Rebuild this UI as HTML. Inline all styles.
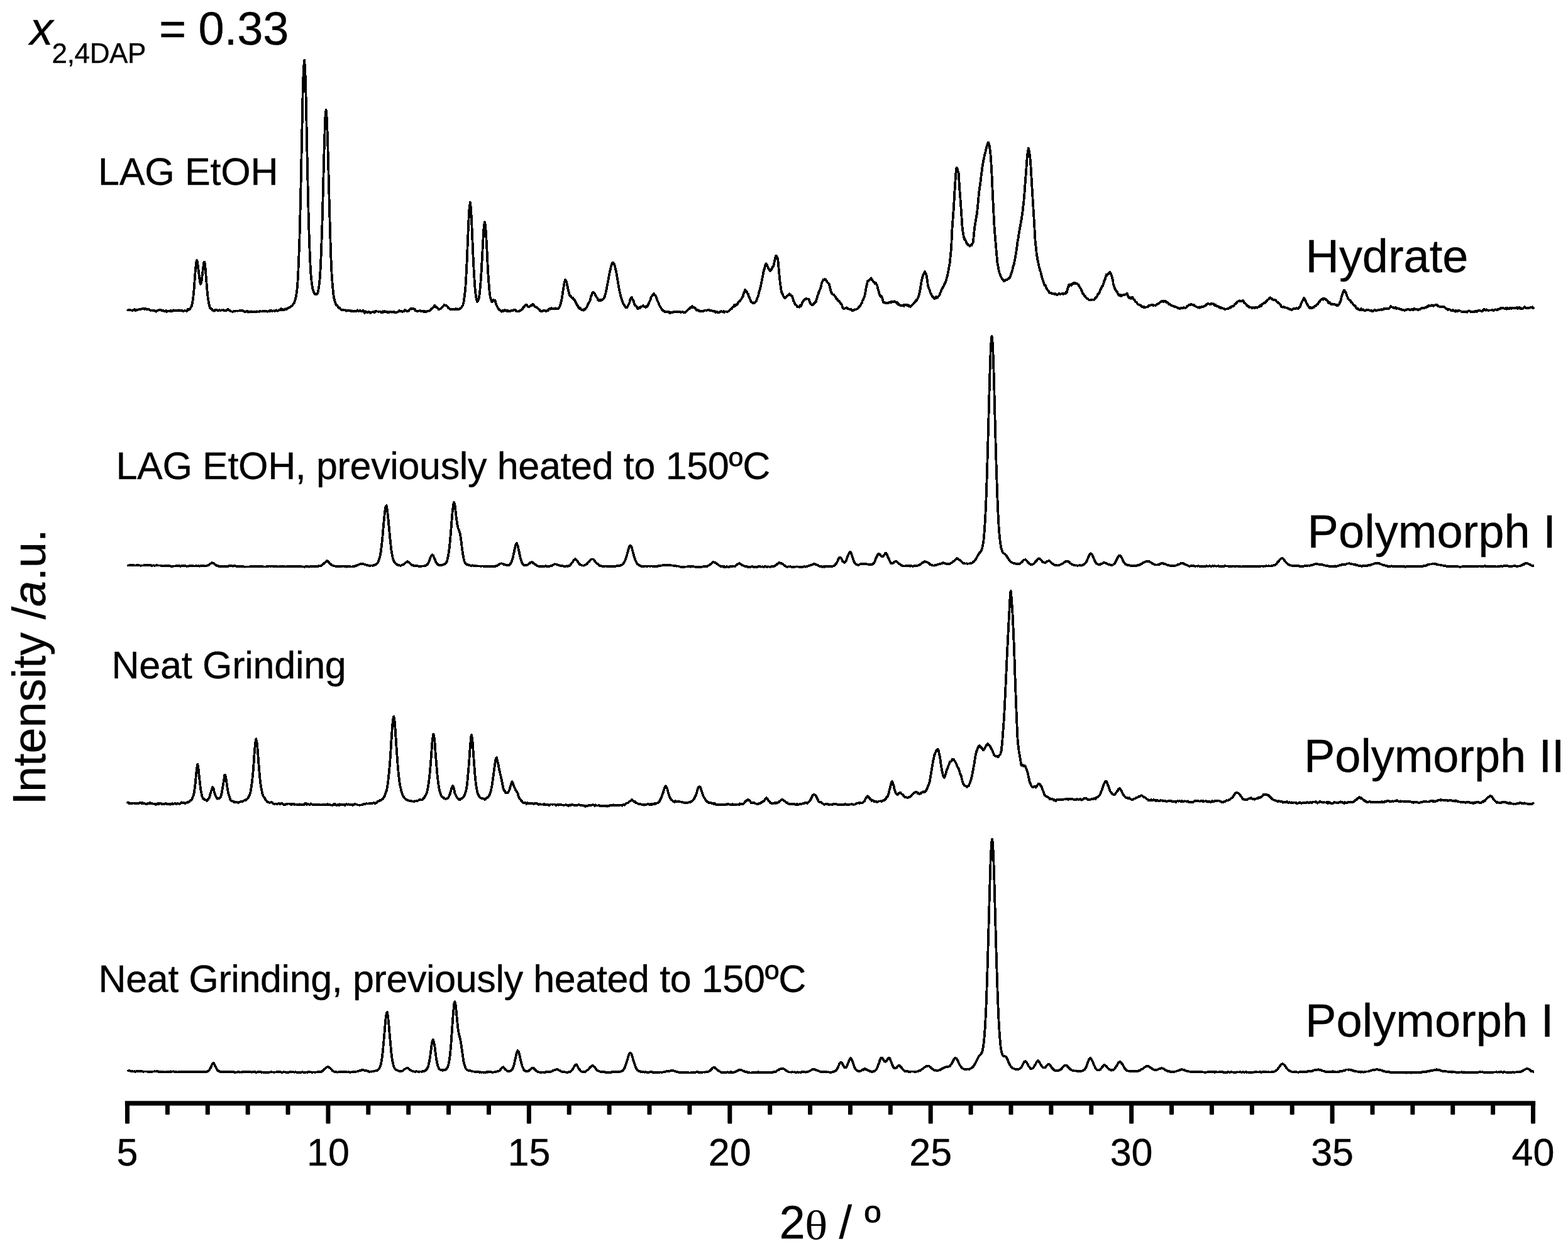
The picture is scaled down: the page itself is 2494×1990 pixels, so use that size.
<!DOCTYPE html>
<html lang="en">
<head>
<meta charset="utf-8">
<title>XRD patterns, x(2,4DAP) = 0.33</title>
<style>
html,body{margin:0;padding:0;background:#fff;}
body{width:2494px;height:1990px;overflow:hidden;}
svg{display:block;}
text{font-family:"Liberation Sans",Arial,Helvetica,sans-serif;fill:#000;stroke:#000;stroke-width:0.35px;stroke-linejoin:round;}
.c{fill:none;stroke:#000;stroke-width:3.80;stroke-linejoin:round;stroke-linecap:butt;shape-rendering:crispEdges;}
.t61{font-size:61px;}
</style>
</head>
<body>
<svg width="2494" height="1990" viewBox="0 0 2494 1990">
<rect x="0" y="0" width="2494" height="1990" fill="#fff"/>
<g id="patterns">
<path class="c" d="M202.5 492.2L203.8 493.2L205.1 493.5L206.3 492.9L207.6 493.4L208.9 493.4L210.2 494.1L211.5 493.2L212.7 493.3L214.0 491.9L215.3 494.1L216.6 492.6L217.9 493.0L219.1 493.0L220.4 492.4L221.7 492.1L223.0 492.1L224.3 491.6L225.5 491.2L226.8 491.4L228.1 491.1L229.4 491.0L230.0 492.2L230.7 491.6L231.9 491.0L233.2 491.8L234.5 492.3L235.8 492.0L237.1 492.2L238.3 493.2L239.6 493.9L240.9 493.4L242.2 493.4L243.5 493.9L244.7 494.6L246.0 494.1L247.3 494.9L248.6 495.7L249.9 494.4L251.1 493.5L252.4 493.4L253.7 493.3L255.0 493.5L256.3 493.2L257.5 493.9L258.8 494.3L260.1 494.3L261.4 495.3L262.7 495.3L263.9 494.2L265.2 495.8L266.5 494.8L267.8 494.5L269.1 494.5L270.3 495.2L271.6 493.6L272.9 495.1L274.2 494.9L275.5 493.2L276.7 494.4L278.0 494.3L279.3 494.6L280.6 494.0L281.9 494.5L283.1 494.5L284.4 493.3L285.7 494.2L287.0 493.6L288.3 493.8L289.5 493.5L290.8 494.8L292.1 494.9L293.4 494.3L294.7 494.4L295.9 494.4L297.2 494.9L298.5 491.9L299.8 492.9L301.1 492.6L302.3 491.1L303.6 488.6L304.9 487.1L306.2 480.3L307.5 471.5L308.7 458.7L310.0 440.5L311.3 424.9L312.6 414.1L313.0 414.0L313.9 415.9L315.1 425.4L316.4 435.7L317.7 446.1L318.6 450.5L319.0 451.7L320.3 449.4L321.5 440.0L322.8 428.4L324.1 418.4L325.0 416.4L325.4 416.9L326.7 426.5L327.9 442.6L329.2 458.6L330.5 472.0L331.8 480.4L333.1 486.6L334.3 490.7L335.6 491.2L336.9 491.3L338.2 493.7L339.5 493.5L340.7 494.7L342.0 493.3L343.3 493.2L344.6 492.7L345.9 494.2L347.1 494.6L348.4 493.4L349.7 493.3L351.0 493.7L352.3 493.3L353.5 493.6L354.8 493.2L356.1 493.7L357.4 494.5L358.7 493.8L359.9 494.4L360.0 493.4L361.2 493.3L362.5 492.0L363.8 492.6L365.1 494.2L366.3 494.2L367.6 495.4L368.9 495.5L370.2 496.0L371.5 495.3L372.7 495.2L374.0 494.8L375.3 494.4L376.6 494.4L377.9 494.7L379.1 494.4L380.4 494.4L381.7 494.2L383.0 494.6L384.3 494.2L385.5 493.5L386.8 494.7L388.1 494.9L389.4 496.0L390.7 495.8L391.9 495.1L393.2 494.5L394.5 496.7L395.8 495.5L397.1 496.0L398.3 496.2L399.6 495.3L400.9 495.8L402.2 495.5L403.5 496.0L404.7 496.0L406.0 495.4L407.3 496.1L408.6 495.4L409.9 495.7L411.1 495.4L412.4 495.8L413.7 494.9L415.0 495.5L416.3 495.4L417.5 495.0L418.8 495.1L420.1 495.0L421.4 494.8L422.7 495.3L423.9 495.2L425.2 495.7L426.5 495.3L427.8 495.3L429.1 494.2L430.3 494.8L431.6 493.8L432.9 494.7L434.2 494.5L435.5 494.3L436.7 494.8L438.0 494.2L439.3 493.4L440.6 494.3L441.9 494.7L443.1 494.0L444.4 492.7L445.7 492.9L447.0 491.3L448.3 493.3L449.5 491.6L450.8 493.0L452.1 492.7L453.4 491.4L454.7 491.6L455.9 491.9L457.2 490.3L458.5 489.9L459.8 489.5L461.1 488.8L462.3 487.6L463.6 487.0L464.9 486.0L466.2 483.8L467.5 482.6L468.7 479.5L470.0 475.0L471.3 469.5L472.6 459.5L473.9 442.2L475.1 415.4L476.4 380.0L477.7 330.8L479.0 273.3L480.3 211.7L481.5 151.7L482.8 110.5L484.0 95.8L484.1 95.8L485.4 112.6L486.7 157.0L487.9 216.2L489.2 278.2L490.5 334.2L491.8 378.7L493.1 412.5L494.3 434.4L495.6 447.9L496.9 457.3L498.2 462.6L498.5 463.3L499.5 465.7L500.7 467.7L502.0 467.9L503.3 468.0L504.6 467.6L505.9 464.3L507.1 457.3L508.4 446.7L509.7 427.7L511.0 398.8L512.3 362.5L513.5 317.6L514.8 267.9L516.1 220.9L517.4 186.2L518.6 174.7L518.7 175.2L519.9 188.9L521.2 225.0L522.5 273.7L523.8 324.5L525.1 370.0L526.3 406.9L527.6 436.2L528.9 453.7L530.2 467.4L531.5 475.1L532.7 479.5L534.0 483.9L535.3 485.8L536.6 486.1L537.9 488.5L539.1 489.8L540.4 490.0L541.7 491.7L543.0 493.0L544.3 493.2L545.5 493.1L546.8 493.1L548.1 493.5L549.4 493.3L550.7 494.6L551.9 493.7L553.2 494.2L554.5 494.1L555.8 493.4L557.1 494.0L558.3 495.1L559.6 494.2L560.9 494.7L562.2 495.3L563.5 494.9L564.7 495.1L566.0 494.9L567.3 494.8L568.6 493.3L569.9 494.8L571.1 494.8L572.4 493.8L573.7 494.7L575.0 494.9L576.3 495.1L577.5 493.7L578.8 495.7L580.1 498.0L581.4 495.3L582.7 496.2L583.9 496.8L585.2 497.1L586.5 495.8L587.8 496.3L589.1 497.8L590.3 496.6L591.6 496.7L592.9 496.0L594.2 496.2L595.5 497.3L596.7 495.2L598.0 495.1L599.3 495.4L600.6 495.4L601.9 495.7L603.1 495.5L604.4 495.7L605.7 496.1L607.0 497.5L608.3 497.2L609.5 495.2L610.8 496.2L612.1 495.3L613.4 496.3L614.7 495.8L615.9 497.1L617.2 496.1L618.5 496.9L619.8 496.2L621.1 495.7L622.3 496.0L623.6 496.8L624.9 496.2L626.2 495.8L627.5 497.4L628.7 496.7L630.0 497.0L631.3 496.7L632.6 496.4L633.9 495.6L635.1 494.1L636.4 495.6L637.7 495.3L639.0 495.3L640.3 496.0L641.5 495.3L642.8 495.1L644.1 493.0L645.4 494.0L646.7 494.6L647.9 495.4L649.2 495.0L650.5 494.0L651.8 492.2L653.1 490.9L654.3 491.7L655.0 490.9L655.6 491.4L656.9 490.8L658.2 491.3L659.5 491.6L660.7 494.1L662.0 494.6L663.3 495.1L664.6 495.3L665.9 494.4L667.1 494.5L668.4 494.2L669.7 495.1L671.0 495.3L672.3 495.1L673.5 494.9L674.8 496.3L676.1 495.1L677.4 496.1L678.7 495.3L679.9 495.1L681.2 494.5L682.5 494.7L683.8 493.9L685.1 493.1L686.3 490.8L687.6 490.1L688.9 489.0L690.2 488.3L691.5 485.7L692.0 487.2L692.7 487.3L694.0 488.7L695.3 489.3L696.6 490.4L697.9 492.5L699.1 491.7L700.4 491.3L701.7 490.5L703.0 489.0L704.3 488.0L705.5 486.4L706.8 484.8L708.0 485.4L708.1 485.5L709.4 485.9L710.7 486.4L711.9 487.6L713.2 489.9L714.5 490.6L715.8 492.1L717.1 491.9L718.3 492.2L719.6 491.7L720.9 492.2L722.2 492.1L723.5 492.0L724.7 491.1L726.0 492.2L727.3 491.4L728.6 492.4L729.9 491.7L731.1 491.3L732.4 490.9L733.7 489.3L735.0 487.0L736.3 485.3L737.5 481.2L738.8 471.1L740.1 460.7L741.4 440.5L742.7 414.8L743.9 384.9L745.2 354.0L746.5 331.5L747.8 322.1L747.8 321.6L749.1 331.6L750.3 355.5L751.6 386.2L752.9 416.1L754.2 439.2L755.5 457.7L756.7 469.3L758.0 476.8L759.3 479.9L760.6 478.1L761.9 473.5L763.1 465.3L764.4 450.6L765.7 431.2L767.0 407.9L768.3 383.3L769.5 362.8L770.8 353.3L771.0 353.7L772.1 358.3L773.4 377.7L774.7 401.3L775.9 427.8L777.2 447.5L778.5 463.3L779.8 473.0L781.1 476.3L782.3 479.9L783.6 479.5L784.9 476.9L786.0 477.5L786.2 477.5L787.5 477.7L788.7 482.7L790.0 486.1L791.3 488.6L792.6 490.8L793.9 493.1L795.1 493.0L796.4 494.6L797.7 495.6L799.0 494.3L800.3 495.1L801.5 494.1L802.8 493.1L804.1 494.4L805.4 493.6L806.7 495.4L807.9 494.2L809.2 495.5L810.5 494.6L811.8 495.3L813.1 494.0L814.3 493.9L815.6 494.4L816.9 493.1L818.2 493.2L819.5 492.9L820.7 494.7L822.0 495.2L823.3 495.4L824.6 495.6L825.9 494.6L827.1 494.2L828.4 493.2L829.7 492.8L831.0 491.4L832.3 489.0L833.5 487.9L834.8 486.6L836.0 485.0L836.1 485.5L837.4 485.0L838.7 486.4L839.9 487.7L841.2 487.6L842.5 487.9L843.8 486.3L845.1 486.5L846.3 484.3L847.6 484.7L848.0 484.3L848.9 485.4L850.2 486.9L851.5 488.1L852.7 489.0L854.0 488.7L855.3 490.3L856.6 491.9L857.9 492.5L859.1 494.7L860.4 494.9L861.7 495.1L863.0 494.9L864.3 494.2L865.5 494.0L866.8 494.2L868.1 494.9L869.4 494.7L870.7 494.0L871.9 493.8L873.2 491.3L874.5 491.3L875.8 491.7L877.1 490.1L878.0 490.5L878.3 491.6L879.6 491.1L880.9 490.6L882.2 490.7L883.5 490.3L884.7 491.4L886.0 490.8L887.3 491.0L888.6 490.6L889.9 488.3L891.1 485.2L892.4 480.6L893.7 474.4L895.0 466.2L896.3 457.8L897.5 450.4L898.8 445.4L899.0 445.1L900.1 446.4L901.4 450.0L902.7 455.9L903.9 462.0L905.2 467.0L906.5 470.8L907.8 471.2L909.1 472.8L910.3 474.0L911.0 473.6L911.6 475.2L912.9 476.6L914.2 477.8L915.5 480.5L916.7 482.6L918.0 485.5L919.3 486.7L920.6 490.0L921.9 490.9L923.1 490.2L924.4 492.5L925.7 493.4L927.0 492.7L928.3 493.7L929.5 491.5L930.8 492.1L932.1 489.6L933.4 488.5L934.7 485.4L935.9 482.5L937.2 480.8L938.5 477.9L939.8 472.3L941.1 468.9L942.3 466.1L943.6 464.8L943.8 465.6L944.9 466.4L946.2 466.9L947.5 470.5L948.7 472.4L950.0 473.8L951.3 477.6L952.6 478.4L953.9 476.7L955.0 478.5L955.1 477.3L956.4 476.8L957.7 477.5L959.0 475.9L960.3 474.5L961.5 473.0L962.8 468.3L964.1 463.2L965.4 456.0L966.7 449.3L967.9 443.5L969.2 435.9L970.5 430.2L971.8 424.2L973.1 420.6L974.3 418.0L975.0 419.6L975.6 418.1L976.9 420.1L978.2 424.0L979.5 430.2L980.7 435.4L982.0 443.5L983.3 450.8L984.6 458.8L985.9 465.1L987.1 470.2L988.4 474.9L989.7 478.8L991.0 482.5L992.3 484.7L993.5 486.2L994.8 488.3L996.1 489.6L997.4 489.4L998.7 486.4L999.9 484.3L1001.2 481.7L1002.5 476.1L1003.8 473.7L1005.0 473.2L1005.1 474.0L1006.3 476.8L1007.6 478.4L1008.9 483.2L1010.2 485.9L1011.5 486.7L1012.7 488.0L1014.0 491.0L1015.3 490.7L1016.6 489.1L1017.9 489.9L1019.1 487.9L1020.4 487.6L1021.7 487.1L1022.0 486.7L1023.0 486.1L1024.3 487.6L1025.5 487.6L1026.8 488.9L1028.1 487.0L1029.4 487.7L1030.7 485.3L1031.9 483.0L1033.2 479.5L1034.5 477.0L1035.8 472.4L1037.1 470.6L1038.3 468.3L1039.6 468.4L1040.0 467.2L1040.9 469.6L1042.2 469.7L1043.5 471.9L1044.7 475.8L1046.0 479.1L1047.3 481.7L1048.6 485.0L1049.9 487.8L1051.1 489.4L1052.4 491.8L1053.7 493.5L1055.0 494.2L1056.3 494.8L1057.5 496.0L1058.8 495.5L1060.1 496.4L1061.4 496.2L1062.7 495.7L1063.9 495.7L1065.2 498.1L1066.5 497.3L1067.8 496.6L1069.1 497.6L1070.3 496.6L1071.6 495.7L1072.9 496.3L1074.2 495.6L1075.5 495.7L1076.7 496.6L1078.0 496.0L1079.3 496.1L1080.6 496.3L1081.9 496.3L1083.1 497.1L1084.4 496.3L1085.7 495.8L1087.0 497.1L1088.3 496.6L1089.5 497.1L1090.8 496.4L1092.1 494.9L1093.4 493.3L1094.7 492.2L1095.9 491.5L1097.2 490.4L1098.5 489.0L1099.8 489.1L1101.0 489.1L1101.1 487.2L1102.3 488.9L1103.6 489.0L1104.9 489.4L1106.2 490.6L1107.5 493.1L1108.7 493.7L1110.0 492.9L1111.3 494.7L1112.6 494.4L1113.9 495.2L1115.1 495.0L1116.4 494.7L1117.7 495.3L1119.0 494.8L1120.3 494.2L1121.5 493.6L1122.8 493.4L1124.1 493.9L1125.4 493.2L1126.7 492.5L1127.5 492.7L1127.9 492.7L1129.2 493.8L1130.5 493.7L1131.8 494.3L1133.1 494.5L1134.3 494.8L1135.6 495.4L1136.9 494.6L1138.2 496.7L1139.5 495.6L1140.7 496.1L1142.0 497.4L1143.3 497.2L1144.6 496.6L1145.9 495.6L1147.1 494.9L1148.4 495.8L1149.7 496.1L1151.0 495.1L1152.3 497.0L1153.5 495.4L1154.8 495.4L1156.1 496.1L1157.4 495.8L1158.7 495.2L1159.9 494.1L1160.0 494.2L1161.2 492.6L1162.5 491.9L1163.8 490.6L1165.1 489.1L1166.3 488.4L1167.6 486.5L1168.3 484.7L1168.9 487.3L1170.0 484.5L1170.2 484.6L1171.5 485.0L1172.7 484.2L1174.0 481.4L1175.3 479.8L1176.6 478.8L1176.7 479.6L1177.9 477.4L1179.1 475.6L1180.4 473.4L1181.7 471.3L1183.0 466.6L1184.3 463.7L1185.0 460.7L1185.5 462.8L1185.5 462.5L1186.8 463.0L1188.1 464.5L1189.4 467.9L1190.1 467.6L1190.7 470.5L1191.9 473.2L1193.2 476.5L1194.5 479.5L1195.1 480.5L1195.8 480.7L1197.1 481.8L1198.3 482.4L1198.4 481.2L1199.6 482.1L1200.9 481.0L1202.2 480.1L1203.4 477.5L1203.5 476.6L1204.7 473.9L1206.0 470.8L1206.8 466.8L1207.3 464.3L1208.6 460.5L1209.9 455.5L1210.1 454.7L1211.1 449.4L1212.4 442.9L1212.6 442.3L1213.7 436.2L1215.0 429.5L1215.1 430.3L1216.3 425.6L1217.5 420.9L1218.4 419.4L1218.8 419.9L1218.8 420.7L1220.1 421.7L1221.4 424.8L1221.8 426.0L1222.7 427.4L1223.9 430.2L1224.7 430.8L1225.2 430.3L1226.5 429.3L1227.8 427.2L1228.5 425.7L1229.1 424.4L1230.3 423.0L1231.6 417.5L1231.8 415.5L1232.9 411.5L1234.2 406.4L1234.2 406.4L1234.3 406.6L1235.5 407.6L1236.7 412.0L1237.2 411.9L1238.0 419.9L1238.9 430.5L1239.3 434.8L1240.6 447.5L1240.6 447.8L1241.9 457.7L1242.2 459.2L1243.1 464.8L1244.3 467.2L1244.4 467.3L1245.7 470.4L1247.0 473.1L1247.2 472.6L1248.3 474.5L1249.5 472.7L1250.8 472.0L1251.8 470.8L1252.1 470.7L1253.4 469.5L1254.7 468.7L1255.0 468.7L1255.6 467.3L1255.9 468.7L1257.2 468.5L1258.5 470.6L1259.8 471.2L1260.2 471.7L1261.1 474.2L1262.3 479.0L1263.1 480.1L1263.6 481.2L1264.9 484.4L1266.2 485.2L1267.5 486.3L1268.1 488.0L1268.7 487.7L1270.0 488.5L1271.3 488.7L1272.6 485.7L1273.9 486.8L1274.4 486.6L1275.1 484.6L1276.4 480.5L1277.7 479.2L1279.0 476.7L1280.3 475.6L1281.5 476.0L1282.3 474.7L1282.5 475.7L1282.8 475.1L1284.1 475.4L1285.4 475.4L1286.7 476.2L1286.9 477.5L1287.9 479.6L1288.6 482.5L1289.2 482.5L1290.5 484.6L1291.8 485.0L1292.7 485.0L1293.1 484.4L1294.3 483.1L1295.6 481.9L1296.9 480.3L1297.8 480.0L1298.2 478.5L1299.5 473.7L1300.7 469.6L1301.1 469.1L1302.0 465.9L1303.3 462.3L1304.6 459.6L1305.3 457.5L1305.9 455.5L1307.1 450.0L1308.4 447.3L1309.4 445.3L1309.7 444.6L1311.0 444.8L1311.2 444.6L1311.9 443.8L1312.3 444.8L1313.5 445.1L1314.8 447.2L1316.1 449.1L1317.4 450.5L1318.7 451.9L1319.5 454.7L1319.9 456.6L1321.2 462.1L1322.0 464.8L1322.5 466.0L1323.8 467.6L1325.1 468.6L1326.1 468.7L1326.3 468.6L1327.0 470.2L1327.6 470.8L1328.9 472.2L1330.2 475.4L1330.3 474.8L1331.5 475.2L1332.7 478.3L1334.0 478.7L1335.2 480.3L1335.3 479.4L1336.6 482.0L1337.9 483.2L1339.1 485.1L1339.2 485.0L1340.4 490.2L1341.7 491.0L1342.5 491.2L1343.0 491.0L1344.3 490.5L1345.5 490.0L1346.8 489.4L1348.1 491.0L1349.2 491.1L1349.4 491.2L1350.7 492.0L1351.9 491.8L1353.2 491.4L1354.5 492.8L1355.8 494.4L1356.3 494.4L1357.1 494.1L1358.3 493.2L1359.6 492.3L1360.9 492.6L1362.2 491.9L1363.4 491.2L1363.5 491.2L1364.7 490.1L1366.0 488.4L1367.3 487.4L1367.6 487.2L1368.6 485.7L1369.9 482.9L1371.1 481.4L1371.7 478.7L1372.4 477.7L1373.7 474.5L1375.0 471.7L1375.1 471.9L1376.3 465.5L1377.2 459.6L1377.5 458.4L1378.8 453.0L1379.3 450.2L1380.1 447.0L1381.4 447.3L1381.8 446.2L1382.7 445.1L1383.8 443.9L1383.9 444.1L1385.1 444.7L1385.2 442.3L1386.5 444.3L1387.8 445.9L1388.4 446.7L1389.1 448.1L1390.3 448.6L1391.6 451.0L1392.6 449.6L1392.9 449.5L1394.0 451.8L1394.2 452.5L1395.5 454.8L1395.5 455.9L1396.7 460.3L1397.6 463.3L1398.0 465.9L1399.3 469.1L1400.6 471.6L1401.0 470.4L1401.9 471.2L1403.1 473.6L1403.5 474.9L1404.4 479.0L1405.1 481.0L1405.7 480.3L1407.0 481.6L1408.3 481.7L1409.5 481.6L1410.1 481.7L1410.8 481.9L1412.1 482.2L1413.4 481.2L1414.7 481.2L1415.9 480.4L1416.8 480.9L1417.0 480.1L1417.2 479.5L1418.5 480.6L1419.8 479.9L1421.1 480.3L1422.3 479.7L1422.7 479.4L1423.6 479.9L1424.9 480.9L1426.2 481.5L1426.8 481.1L1427.5 483.6L1428.7 482.7L1430.0 484.5L1431.3 485.7L1432.6 486.2L1432.7 486.4L1433.9 486.3L1435.1 485.9L1436.4 485.3L1437.7 486.8L1438.5 484.6L1439.0 485.4L1440.0 485.0L1440.3 484.9L1441.5 485.1L1442.8 486.0L1444.1 485.2L1445.2 485.6L1445.4 487.0L1446.7 487.2L1447.9 488.0L1449.2 486.9L1449.4 486.5L1450.5 485.2L1451.8 484.4L1453.1 482.9L1453.6 481.9L1454.3 481.5L1455.6 480.1L1456.9 478.4L1457.7 477.0L1458.2 477.7L1459.5 475.3L1460.7 472.7L1461.5 470.3L1462.0 468.5L1463.3 462.2L1463.6 460.6L1464.6 454.0L1465.2 449.9L1465.9 446.9L1467.1 441.3L1467.3 440.3L1468.4 437.6L1469.7 434.3L1470.8 433.3L1471.0 431.7L1471.1 432.1L1472.3 434.3L1473.5 438.3L1474.0 439.8L1474.8 445.4L1475.7 452.4L1476.1 454.4L1477.4 458.8L1478.2 460.2L1478.7 461.2L1479.9 466.2L1481.1 467.5L1481.2 468.2L1482.5 471.1L1483.8 472.3L1484.4 473.4L1485.1 474.1L1486.3 475.1L1487.6 474.4L1488.9 472.1L1490.2 473.2L1490.3 473.9L1491.5 473.1L1492.7 471.1L1494.0 470.1L1494.5 468.6L1495.3 466.6L1496.6 463.7L1497.9 459.9L1498.6 459.6L1499.1 458.3L1500.0 456.2L1500.4 456.4L1501.7 453.7L1502.0 452.6L1503.0 450.6L1504.3 447.6L1505.3 444.9L1505.5 443.3L1506.8 439.2L1507.8 433.6L1508.1 433.1L1509.4 425.2L1510.0 422.1L1510.3 420.8L1510.7 417.9L1511.9 406.3L1512.9 395.6L1513.2 391.4L1514.5 362.9L1514.6 362.3L1515.8 345.0L1517.1 328.9L1517.1 328.2L1518.3 306.2L1519.1 294.4L1519.6 286.0L1520.9 268.1L1521.3 267.2L1522.0 267.6L1522.2 267.2L1523.5 271.9L1524.7 276.0L1524.7 277.6L1526.0 295.2L1526.4 302.5L1527.3 313.1L1528.6 331.9L1528.9 335.6L1529.9 351.4L1530.6 361.1L1531.1 365.8L1532.4 374.3L1533.7 380.0L1533.9 379.3L1535.0 381.4L1536.3 383.3L1537.5 386.4L1538.2 387.9L1538.8 388.2L1540.1 389.8L1541.4 390.4L1542.4 390.7L1542.5 390.9L1542.7 391.6L1543.9 390.0L1545.2 390.5L1546.5 387.5L1547.4 386.7L1547.8 384.3L1549.1 372.3L1550.0 362.7L1550.3 360.4L1551.6 352.9L1552.9 345.1L1554.2 338.6L1554.2 336.8L1555.5 324.2L1556.7 311.4L1556.7 310.8L1558.0 299.5L1559.3 291.5L1560.0 286.3L1560.6 280.3L1561.9 270.5L1562.0 268.8L1563.1 261.3L1563.4 260.0L1564.4 254.6L1565.7 248.4L1566.8 243.2L1567.0 244.0L1568.3 237.9L1569.5 232.7L1570.8 228.8L1571.9 227.3L1572.0 226.4L1572.1 227.0L1573.4 230.3L1574.7 238.6L1575.9 249.3L1576.1 251.8L1577.2 272.5L1577.8 283.6L1578.5 300.1L1579.5 320.8L1579.8 326.8L1581.1 352.6L1581.1 353.5L1582.3 370.4L1583.6 386.1L1583.7 386.7L1584.9 401.2L1586.2 416.1L1586.2 416.2L1587.5 423.8L1588.7 430.2L1589.6 434.0L1590.0 434.8L1591.3 438.8L1592.6 441.2L1593.9 443.8L1595.1 444.6L1595.5 444.8L1596.2 445.8L1596.4 446.9L1597.7 447.4L1599.0 445.9L1600.3 444.7L1601.5 445.1L1602.8 444.5L1604.1 443.1L1604.7 443.1L1605.4 442.2L1606.7 440.8L1607.9 436.9L1609.2 433.1L1610.5 428.9L1610.6 427.7L1611.8 422.9L1612.5 420.6L1613.1 419.1L1614.3 412.3L1614.9 409.8L1615.6 405.5L1616.9 396.8L1618.2 387.5L1618.2 386.5L1619.5 379.3L1620.7 371.7L1622.0 363.9L1622.4 361.5L1623.3 357.3L1624.0 352.1L1624.6 349.9L1625.9 340.9L1626.7 334.9L1627.1 331.0L1628.4 320.1L1629.2 310.3L1629.7 304.8L1631.0 286.4L1631.7 277.2L1632.3 269.4L1633.5 253.3L1633.7 249.7L1634.8 240.8L1635.8 236.9L1635.9 235.5L1636.1 236.5L1637.4 243.0L1638.7 253.4L1639.3 261.3L1639.9 270.9L1641.2 293.2L1641.8 302.5L1642.5 314.9L1643.8 335.5L1644.4 345.2L1645.1 356.6L1646.3 378.7L1646.9 386.5L1647.6 392.0L1648.9 404.4L1650.0 410.6L1650.2 412.3L1650.3 412.9L1651.5 418.4L1652.7 424.1L1654.0 429.1L1655.3 432.8L1656.6 438.6L1657.9 443.2L1659.1 446.4L1660.4 450.6L1661.2 452.8L1661.7 454.0L1662.0 453.5L1663.0 454.5L1664.3 458.5L1665.5 460.1L1666.8 461.7L1668.1 463.7L1668.8 465.2L1669.4 465.6L1670.7 466.0L1671.9 465.8L1673.2 467.3L1674.5 466.7L1675.5 467.5L1675.8 467.6L1677.1 467.8L1678.3 467.2L1679.6 468.3L1680.0 468.0L1680.9 468.7L1682.2 469.1L1683.5 467.4L1684.7 466.5L1686.0 468.2L1686.7 468.2L1687.3 467.9L1688.6 467.2L1689.9 467.3L1691.1 467.8L1692.4 466.6L1692.5 467.2L1693.7 466.5L1695.0 466.9L1696.3 464.0L1696.7 465.1L1697.5 462.6L1698.8 456.9L1700.0 455.4L1700.1 453.2L1701.4 453.4L1702.0 453.6L1702.7 452.4L1703.9 452.3L1704.2 454.1L1705.2 452.4L1706.5 450.9L1707.8 450.2L1708.4 450.6L1709.1 451.1L1710.3 450.1L1711.0 450.7L1711.6 451.1L1712.1 451.0L1712.9 451.1L1714.2 452.2L1715.5 452.5L1715.9 455.0L1716.7 455.5L1718.0 457.9L1719.2 459.5L1719.3 459.5L1720.6 462.6L1721.9 466.2L1722.6 466.5L1723.1 468.1L1724.4 469.8L1725.7 472.0L1725.9 471.2L1727.0 472.8L1728.3 474.4L1729.5 474.9L1730.1 475.7L1730.8 475.4L1732.1 477.1L1733.4 477.5L1734.7 477.5L1735.9 477.2L1735.9 476.9L1737.2 476.9L1738.5 476.5L1739.8 476.8L1741.1 475.9L1741.8 474.4L1742.3 474.7L1743.6 472.7L1744.9 471.5L1746.0 468.9L1746.2 467.8L1747.5 467.5L1748.7 465.0L1750.0 461.2L1750.1 461.0L1751.3 459.1L1752.6 456.0L1753.5 454.7L1753.9 454.7L1755.1 451.3L1756.4 446.8L1756.8 446.6L1757.7 443.9L1759.0 439.3L1760.1 436.4L1760.3 438.3L1761.5 436.6L1762.8 435.7L1764.1 434.2L1764.5 434.5L1764.7 434.6L1765.4 432.8L1766.7 435.0L1767.9 437.7L1768.5 439.9L1769.2 442.7L1770.5 448.3L1770.6 451.3L1771.8 454.9L1773.1 459.3L1773.5 459.2L1774.3 461.3L1775.6 463.2L1776.8 464.1L1776.9 463.9L1778.2 467.5L1779.5 469.2L1780.2 469.7L1780.7 470.2L1782.0 469.3L1783.3 470.8L1784.6 469.4L1785.9 469.7L1786.0 469.5L1787.1 469.0L1787.7 468.8L1788.4 469.5L1789.7 468.6L1791.0 468.4L1792.3 467.4L1792.7 466.6L1793.5 468.7L1794.8 472.3L1796.0 473.8L1796.1 473.8L1797.4 473.3L1798.7 474.9L1799.9 473.2L1800.2 474.2L1801.2 472.7L1802.5 475.6L1803.8 476.3L1804.4 477.7L1805.1 478.3L1806.3 480.2L1807.6 480.5L1808.6 482.1L1808.9 482.9L1810.2 484.4L1811.5 484.8L1812.7 485.1L1813.6 485.2L1814.0 485.4L1815.3 486.9L1816.6 488.0L1817.9 488.3L1819.1 489.2L1820.3 488.2L1820.4 488.6L1821.7 489.3L1823.0 488.4L1824.3 488.6L1825.5 488.4L1826.1 487.4L1826.8 486.6L1828.1 485.6L1829.4 485.7L1830.7 485.2L1831.9 485.4L1833.2 485.0L1834.4 485.4L1834.5 485.9L1835.8 485.4L1837.1 485.5L1838.3 485.9L1839.6 484.4L1840.9 484.0L1842.2 483.4L1842.8 482.6L1843.5 482.4L1844.7 481.3L1846.0 480.6L1847.3 479.3L1848.6 478.9L1849.9 479.7L1850.0 479.0L1850.3 480.1L1851.1 479.2L1852.4 479.6L1853.7 478.8L1855.0 479.9L1855.3 481.2L1856.3 480.6L1857.5 481.6L1858.8 483.2L1860.0 484.4L1860.1 483.5L1861.4 484.3L1862.7 485.8L1863.9 486.1L1865.2 486.5L1866.5 486.9L1867.8 487.8L1869.1 488.4L1870.3 488.3L1871.6 488.6L1872.9 490.1L1874.2 489.5L1875.5 490.3L1876.7 491.1L1878.0 490.3L1879.3 490.5L1880.6 490.2L1881.9 490.4L1883.1 489.2L1884.4 489.6L1885.7 489.8L1887.0 488.9L1888.3 487.1L1889.5 486.7L1890.8 485.5L1892.1 484.8L1893.4 485.0L1894.7 483.9L1895.0 484.5L1895.9 484.6L1897.2 484.8L1898.5 484.5L1899.8 486.3L1901.1 487.0L1902.3 487.6L1903.6 488.4L1904.9 489.0L1906.2 489.2L1907.5 489.6L1908.7 488.3L1910.0 488.8L1911.3 488.0L1912.6 488.0L1913.9 488.4L1915.1 487.3L1916.4 486.6L1917.7 485.9L1919.0 484.4L1920.3 483.4L1921.5 482.8L1922.8 483.5L1924.1 483.8L1925.4 483.8L1926.0 482.8L1926.7 483.7L1927.9 482.9L1929.2 483.7L1930.5 483.2L1931.8 485.9L1933.1 484.7L1934.3 486.6L1935.6 486.8L1936.9 486.8L1938.2 487.7L1939.5 489.2L1940.7 489.8L1942.0 489.3L1943.3 490.0L1944.6 490.2L1945.9 490.7L1947.1 490.9L1948.4 492.4L1949.7 491.6L1951.0 491.5L1952.3 491.1L1953.5 491.5L1954.8 490.4L1956.1 488.8L1957.4 489.6L1958.7 487.5L1959.9 487.3L1961.2 487.3L1962.5 486.9L1963.8 484.4L1965.1 483.3L1966.3 482.5L1967.6 480.5L1968.9 479.5L1970.2 479.2L1971.5 478.4L1972.5 478.9L1972.7 478.8L1974.0 478.6L1975.3 479.5L1976.6 478.1L1977.9 479.1L1979.1 481.8L1980.4 482.4L1981.7 483.6L1983.0 485.6L1984.3 486.9L1985.5 486.8L1986.8 488.7L1988.1 488.5L1989.4 488.7L1990.7 489.6L1991.9 490.3L1993.2 489.0L1994.5 489.8L1995.8 489.8L1997.1 488.4L1998.3 488.7L1999.6 489.7L2000.9 488.4L2002.2 488.3L2003.5 487.4L2004.7 485.5L2006.0 486.9L2007.3 483.9L2008.6 483.5L2009.9 482.3L2011.1 482.2L2012.4 481.6L2013.7 479.5L2015.0 478.5L2016.3 476.7L2017.5 476.6L2018.8 474.7L2020.1 473.4L2021.4 474.5L2022.5 474.5L2022.7 475.4L2023.9 476.4L2025.2 477.0L2026.5 477.4L2027.8 477.2L2029.1 477.5L2030.3 479.8L2031.6 480.2L2032.9 481.5L2034.2 482.6L2035.5 483.5L2036.7 485.1L2038.0 487.8L2039.3 488.2L2040.6 488.8L2041.9 488.3L2043.1 489.0L2044.4 489.5L2045.7 489.6L2047.0 489.7L2048.3 490.3L2049.5 490.9L2050.8 491.6L2052.1 492.2L2053.4 492.3L2054.7 493.1L2055.9 492.0L2057.2 491.3L2058.5 490.5L2059.8 491.6L2061.1 490.8L2062.3 490.2L2063.6 490.7L2064.9 491.1L2066.2 488.9L2067.5 488.6L2068.7 485.6L2070.0 481.9L2071.3 479.3L2072.6 477.5L2073.9 474.7L2074.0 474.1L2075.1 475.2L2076.4 478.2L2077.7 481.4L2079.0 483.5L2080.3 486.0L2081.5 487.8L2082.8 489.4L2084.1 490.5L2085.4 489.1L2086.7 490.2L2087.9 489.3L2089.2 489.3L2090.5 487.3L2091.8 487.1L2093.1 486.5L2094.3 484.8L2095.6 484.3L2096.9 482.0L2098.2 480.3L2099.5 478.9L2100.7 477.3L2102.0 475.9L2103.3 475.8L2104.6 476.8L2105.0 474.4L2105.9 474.8L2107.1 475.1L2108.4 475.9L2109.7 477.2L2111.0 477.9L2112.3 480.2L2113.5 482.5L2114.8 480.9L2116.1 483.4L2117.4 484.1L2118.7 483.3L2119.9 484.0L2121.2 483.9L2122.5 483.7L2123.8 485.0L2125.1 484.4L2126.3 486.1L2127.6 486.3L2128.9 484.7L2130.2 483.8L2131.5 480.6L2132.7 477.3L2134.0 471.2L2135.3 467.6L2136.6 463.4L2137.9 462.7L2138.0 461.5L2139.1 463.7L2140.4 464.3L2141.7 468.9L2143.0 472.0L2144.3 475.1L2145.5 476.6L2146.8 477.5L2148.1 478.5L2149.0 481.2L2149.4 481.0L2150.7 481.3L2151.9 484.0L2153.2 485.0L2154.5 485.9L2155.8 487.0L2157.1 490.2L2158.3 491.4L2159.6 490.4L2160.9 492.6L2162.2 493.0L2163.5 493.4L2164.7 491.2L2166.0 493.1L2167.3 493.4L2168.6 492.4L2169.9 493.7L2171.1 493.7L2172.4 493.8L2173.7 492.7L2175.0 493.1L2176.3 492.8L2177.5 493.4L2178.8 494.0L2180.1 494.1L2181.4 493.6L2182.7 495.1L2183.9 494.9L2185.2 494.0L2186.5 493.0L2187.8 493.4L2189.1 494.4L2190.3 493.8L2191.6 493.2L2192.9 493.3L2194.2 492.9L2195.5 492.7L2196.7 492.2L2198.0 492.8L2199.3 492.6L2200.6 492.0L2201.9 490.7L2203.1 490.9L2204.4 490.9L2205.7 491.3L2207.0 490.8L2208.3 491.0L2209.5 490.4L2210.8 489.5L2212.0 487.3L2212.1 487.9L2213.4 488.2L2214.7 488.7L2215.9 489.0L2217.2 490.1L2218.5 489.3L2219.8 488.6L2221.1 490.9L2222.3 490.4L2223.6 490.6L2224.9 491.0L2226.2 491.1L2227.5 492.1L2228.7 491.9L2230.0 492.9L2231.3 493.0L2232.6 493.2L2233.9 493.7L2235.1 493.3L2236.4 492.8L2237.7 492.6L2239.0 491.8L2240.3 492.6L2241.5 492.4L2242.8 493.3L2244.1 492.9L2245.4 491.7L2246.7 492.8L2247.9 493.0L2249.2 490.8L2250.5 491.4L2251.8 492.2L2253.1 491.4L2254.3 492.5L2255.6 493.2L2256.9 492.1L2258.2 492.3L2259.5 491.4L2260.7 490.0L2262.0 490.2L2263.3 490.6L2264.6 489.7L2265.9 490.0L2267.1 489.4L2268.4 488.4L2269.7 488.8L2271.0 487.6L2272.3 486.1L2273.5 486.5L2274.8 486.7L2276.1 486.1L2277.4 485.3L2278.7 486.3L2279.9 486.8L2280.0 485.4L2281.2 485.6L2282.5 485.3L2283.8 484.4L2285.1 484.9L2286.3 485.3L2287.6 487.3L2288.9 487.5L2290.2 487.7L2291.5 488.4L2292.7 488.0L2294.0 487.9L2295.3 488.4L2296.6 488.0L2297.9 488.7L2299.1 490.1L2300.4 490.9L2301.7 491.3L2303.0 492.7L2304.3 492.3L2305.5 492.2L2306.8 493.0L2308.1 494.0L2309.4 493.6L2310.7 493.1L2311.9 494.4L2313.2 494.4L2314.5 495.6L2315.8 493.6L2317.1 495.5L2318.3 494.3L2319.6 494.8L2320.9 493.7L2322.2 494.7L2323.5 495.5L2324.7 495.5L2326.0 496.4L2327.3 495.9L2328.6 495.7L2329.9 495.8L2331.1 495.7L2332.4 495.7L2333.7 496.6L2335.0 494.7L2336.3 494.4L2337.5 494.8L2338.8 495.8L2340.1 496.0L2341.4 496.4L2342.7 496.4L2343.9 495.7L2345.2 496.2L2346.5 494.5L2347.8 495.6L2349.1 495.8L2350.3 494.3L2351.6 493.5L2352.9 493.9L2354.2 494.4L2355.5 494.5L2356.7 495.6L2358.0 495.1L2359.3 492.5L2360.6 492.0L2361.9 493.4L2363.1 493.7L2364.4 492.4L2365.7 493.6L2367.0 493.6L2368.3 493.9L2369.5 493.5L2370.8 493.5L2372.1 493.5L2373.4 492.9L2374.7 493.6L2375.9 494.3L2377.2 492.5L2378.5 492.3L2379.8 492.9L2381.1 493.4L2382.3 491.7L2383.6 492.1L2384.9 490.8L2386.2 491.5L2387.5 490.0L2388.7 490.6L2390.0 490.0L2391.3 490.1L2392.6 490.9L2393.9 491.1L2395.1 490.3L2396.4 491.7L2397.7 489.9L2399.0 490.5L2400.0 491.4L2400.3 490.4L2401.5 490.1L2402.8 490.0L2404.1 491.0L2405.4 490.0L2406.7 490.3L2407.9 489.9L2409.2 489.9L2410.5 489.9L2411.8 489.5L2413.1 488.9L2414.3 490.8L2415.6 489.4L2416.9 489.0L2418.2 491.1L2419.5 490.4L2420.7 490.6L2422.0 491.3L2423.3 489.6L2424.6 488.1L2425.9 489.6L2427.1 489.8L2428.4 490.3L2429.7 489.5L2431.0 489.8L2432.3 489.7L2433.5 489.4L2434.8 489.1L2436.1 489.3L2437.4 488.4L2438.7 490.2L2439.9 488.8"/>
<path class="c" d="M202.5 899.2L203.8 899.5L205.1 899.5L206.3 899.2L207.6 899.5L208.9 898.6L210.2 898.7L211.5 898.6L212.7 899.1L214.0 899.4L215.3 899.4L216.6 899.4L217.9 898.8L219.1 899.2L220.4 899.0L221.7 899.5L223.0 899.6L224.3 899.9L225.5 899.5L226.8 899.5L228.1 899.5L229.4 899.2L230.7 898.9L231.9 899.3L233.2 899.3L234.5 899.4L235.8 899.2L237.1 899.3L238.3 899.5L239.6 899.0L240.9 899.9L242.2 899.7L243.5 899.6L244.7 899.4L246.0 899.7L247.3 899.5L248.6 899.4L249.9 899.2L251.1 899.4L252.4 899.6L253.7 899.4L255.0 899.4L256.3 899.9L257.5 900.0L258.8 900.5L260.1 900.6L261.4 900.0L262.7 899.7L263.9 900.0L265.2 900.0L266.5 900.0L267.8 900.3L269.1 900.4L270.3 900.1L271.6 900.7L272.9 900.7L274.2 900.9L275.5 900.8L276.7 900.5L278.0 900.6L279.3 900.3L280.6 900.0L281.9 900.4L283.1 900.3L284.4 900.4L285.7 900.1L287.0 900.7L288.3 900.3L289.5 899.9L290.8 899.5L292.1 900.2L293.4 899.9L294.7 900.1L295.9 900.4L297.2 900.8L298.5 900.5L299.8 900.7L301.1 900.2L302.3 900.0L303.6 900.1L304.9 900.3L306.2 900.2L307.5 900.4L308.7 900.5L310.0 900.5L311.3 900.0L312.6 900.2L313.9 900.5L315.1 900.6L316.4 900.2L317.7 900.7L319.0 900.3L320.3 900.1L321.5 900.2L322.8 900.4L324.1 899.8L325.4 900.4L326.7 900.6L327.9 900.2L329.2 900.0L330.5 899.4L331.8 898.9L333.1 898.1L334.3 896.8L335.6 896.1L336.9 895.3L338.0 895.3L338.2 895.7L339.5 895.9L340.7 896.8L342.0 897.9L343.3 899.1L344.6 899.4L345.9 900.3L347.1 900.1L348.4 901.0L349.7 901.2L351.0 901.2L352.3 901.0L353.5 900.6L354.8 900.8L356.1 900.8L357.4 900.7L358.7 900.5L359.9 901.1L361.2 900.9L362.5 901.2L363.8 900.2L365.1 900.0L366.3 900.2L367.6 900.0L368.9 900.2L370.2 900.7L371.5 900.4L372.7 900.2L374.0 900.1L375.3 900.7L376.6 900.7L377.9 900.7L379.1 900.6L380.4 900.9L381.7 900.9L383.0 900.8L384.3 901.3L385.5 901.0L386.8 901.2L388.1 901.5L389.4 901.7L390.7 901.4L391.9 901.4L393.2 901.6L394.5 901.5L395.8 901.4L397.1 901.4L398.3 901.3L399.6 901.0L400.9 900.9L402.2 901.3L403.5 901.0L404.7 901.3L406.0 901.3L407.3 901.1L408.6 901.0L409.9 901.1L411.1 901.2L412.4 900.9L413.7 900.6L415.0 901.0L416.3 901.1L417.5 901.3L418.8 901.4L420.1 901.4L421.4 901.4L422.7 901.5L423.9 901.1L425.2 901.1L426.5 901.0L427.8 900.5L429.1 900.5L430.3 901.2L431.6 900.7L432.9 900.5L434.2 901.0L435.5 901.4L436.7 901.0L438.0 901.2L439.3 901.2L440.6 901.1L441.9 901.5L443.1 901.5L444.4 901.1L445.7 901.3L447.0 901.5L448.3 901.2L449.5 901.3L450.8 901.3L452.1 901.0L453.4 901.4L454.7 901.4L455.9 901.3L457.2 900.8L458.5 901.0L459.8 901.6L461.1 900.6L462.3 900.7L463.6 900.7L464.9 901.0L466.2 901.0L467.5 901.0L468.7 901.1L470.0 901.2L471.3 901.0L472.6 900.8L473.9 900.7L475.1 901.2L476.4 901.3L477.7 901.3L479.0 901.2L480.3 901.5L481.5 901.3L482.8 901.5L484.1 901.7L485.4 901.3L486.7 901.2L487.9 901.1L489.2 901.1L490.5 901.3L491.8 901.7L493.1 901.3L494.3 901.0L495.6 901.6L496.9 900.7L498.2 901.3L499.5 901.3L500.7 901.2L502.0 900.9L503.3 900.9L504.6 900.8L505.9 901.0L507.1 900.2L508.4 900.5L509.7 900.4L511.0 899.6L512.3 898.6L513.5 897.9L514.8 896.5L516.1 895.5L517.4 894.4L518.7 893.0L519.9 892.2L520.0 892.7L521.2 892.8L522.5 894.0L523.8 895.6L525.1 896.6L526.3 898.0L527.6 898.9L528.9 899.5L530.2 899.8L531.5 900.4L532.7 900.5L534.0 901.0L535.3 900.8L536.6 901.1L537.9 901.1L539.1 900.6L540.4 901.2L541.7 901.3L543.0 901.3L544.3 900.7L545.5 900.5L546.8 900.9L548.1 900.8L549.4 900.9L550.7 900.8L551.9 901.7L553.2 901.0L554.5 900.9L555.8 900.9L557.1 901.1L558.3 901.5L559.6 901.5L560.9 901.3L562.2 901.1L563.5 900.9L564.7 900.2L566.0 899.5L567.3 899.9L568.6 898.8L569.9 898.5L571.1 897.8L572.4 897.3L573.7 896.9L575.0 896.5L575.0 896.8L576.3 896.8L577.5 897.1L578.8 897.4L580.1 898.2L581.4 898.4L582.7 898.9L583.9 898.8L585.2 899.3L586.5 899.8L587.8 899.7L589.1 899.8L590.3 899.6L591.6 899.5L592.9 899.8L594.2 899.2L595.5 899.2L596.7 898.5L598.0 897.6L599.3 896.6L600.6 895.7L601.9 893.0L603.1 889.5L604.4 885.4L605.7 877.9L607.0 867.9L608.3 855.6L609.5 841.4L610.8 827.1L612.1 814.2L613.4 806.1L614.2 804.5L614.7 804.1L615.9 810.7L617.2 822.0L618.5 836.3L619.8 850.6L621.1 863.1L622.3 874.4L623.6 882.5L624.9 888.2L626.2 892.0L627.5 894.8L628.7 895.8L630.0 897.3L631.3 897.9L632.6 898.7L633.9 898.6L635.1 899.1L636.4 899.7L637.7 899.7L639.0 898.8L640.3 898.6L641.5 898.1L642.8 896.9L644.1 895.8L645.4 894.9L646.7 894.1L647.9 893.7L648.0 892.8L649.2 893.9L650.5 894.6L651.8 896.0L653.1 897.0L654.3 898.3L655.6 899.2L656.9 898.8L658.2 900.2L659.5 900.2L660.7 899.8L662.0 899.8L663.3 900.6L664.6 900.4L665.9 900.8L667.1 900.7L668.4 900.7L669.7 900.8L671.0 900.5L672.3 900.6L673.5 900.5L674.8 900.2L676.1 900.1L677.4 899.8L678.7 898.6L679.9 897.7L681.2 895.7L682.5 892.8L683.8 889.1L685.1 885.9L686.3 883.4L687.5 882.5L687.6 882.8L688.9 883.4L690.2 886.3L691.5 889.5L692.7 892.8L694.0 895.2L695.3 896.9L696.6 898.3L697.9 898.8L699.1 899.0L700.4 898.6L701.7 898.7L703.0 899.0L704.3 898.3L705.5 898.1L706.8 897.4L708.1 896.5L709.4 895.4L710.7 893.6L711.9 889.1L713.2 883.0L714.5 873.7L715.8 861.5L717.1 846.6L718.3 830.4L719.6 814.5L720.9 803.8L722.0 799.2L722.2 799.5L723.5 803.5L724.7 813.6L726.0 825.2L727.3 834.2L728.6 840.1L729.9 842.9L731.1 846.3L731.5 847.6L732.4 852.5L733.7 862.3L735.0 872.9L736.3 881.9L737.5 888.8L738.8 893.6L740.1 895.8L741.4 897.4L742.7 898.3L743.9 898.2L745.2 899.2L746.5 899.0L747.8 899.6L749.1 900.0L750.3 899.6L751.6 899.4L752.9 899.6L754.2 900.3L755.5 900.0L756.7 899.9L758.0 900.6L759.3 900.4L760.6 900.6L761.9 900.4L763.1 900.4L764.4 900.7L765.7 900.7L767.0 900.4L768.3 900.7L769.5 900.5L770.8 901.0L772.1 901.1L773.4 901.1L774.7 900.6L775.9 900.6L777.2 900.8L778.5 900.7L779.8 900.9L781.1 900.9L782.3 900.8L783.6 900.9L784.9 900.9L786.2 901.0L787.5 901.1L788.7 900.3L790.0 900.1L791.3 899.6L792.6 898.5L793.9 897.8L795.1 896.7L796.4 896.5L797.5 896.3L797.7 896.4L799.0 896.5L800.3 897.1L801.5 897.9L802.8 898.2L804.1 898.7L805.4 898.9L806.7 899.2L807.9 899.0L809.2 899.2L810.5 898.4L811.8 897.0L813.1 894.8L814.3 891.6L815.6 887.4L816.9 882.0L818.2 875.7L819.5 869.4L820.7 865.5L821.8 863.9L822.0 864.8L823.3 867.3L824.6 873.1L825.9 878.7L827.1 884.9L828.4 890.0L829.7 893.8L831.0 896.6L832.3 898.2L833.5 899.0L834.8 899.6L836.1 899.3L837.4 899.3L838.7 898.5L839.9 898.2L841.2 897.0L842.5 896.0L843.8 894.9L845.1 894.4L846.0 894.3L846.3 894.6L847.6 895.1L848.9 896.3L850.2 897.0L851.5 898.1L852.7 898.6L854.0 899.7L855.3 900.5L856.6 900.6L857.9 901.2L859.1 901.2L860.4 900.9L861.7 901.3L863.0 900.7L864.3 900.5L865.5 900.8L866.8 900.7L868.1 900.3L869.4 900.9L870.7 900.6L871.9 900.9L873.2 900.8L874.5 900.6L875.8 900.3L877.1 899.7L878.3 900.0L879.6 898.6L880.9 898.2L882.2 897.3L883.5 897.5L884.0 897.6L884.7 897.8L886.0 898.3L887.3 898.6L888.6 898.9L889.9 899.4L891.1 900.1L892.4 900.2L893.7 900.2L895.0 900.2L896.3 900.5L897.5 901.1L898.8 900.7L900.1 901.0L901.4 900.2L902.7 901.0L903.9 900.3L905.2 900.1L906.5 899.2L907.8 897.9L909.1 896.1L910.3 894.8L911.6 892.8L912.9 890.8L914.2 889.8L915.0 889.3L915.5 889.8L916.7 890.4L918.0 891.8L919.3 894.1L920.6 896.0L921.9 897.7L923.1 898.4L924.4 898.7L925.7 899.5L927.0 899.4L928.3 899.7L929.5 899.4L930.8 898.5L932.1 897.9L933.4 897.2L934.7 895.6L935.9 894.2L937.2 893.4L938.5 891.4L939.8 890.4L941.1 889.4L942.0 889.5L942.3 889.5L943.6 889.7L944.9 891.1L946.2 892.9L947.5 894.6L948.7 895.6L950.0 896.8L951.3 897.5L952.6 899.0L953.9 899.8L955.1 899.9L956.4 900.4L957.7 900.8L959.0 900.8L960.3 900.5L961.5 900.8L962.8 900.5L964.1 900.4L965.4 900.9L966.7 901.1L967.9 900.6L969.2 901.2L970.5 901.4L971.8 900.4L973.1 900.9L974.3 901.1L975.6 900.8L976.9 900.9L978.2 900.6L979.5 900.8L980.7 900.2L982.0 900.4L983.3 900.0L984.6 900.4L985.9 900.1L987.1 899.1L988.4 898.6L989.7 898.2L991.0 896.9L992.3 895.3L993.5 893.0L994.8 890.4L996.1 886.7L997.4 881.8L998.7 877.1L999.9 872.4L1001.2 869.1L1002.5 867.9L1003.8 868.8L1005.1 871.6L1006.3 876.7L1007.6 881.7L1008.9 885.9L1010.2 890.2L1011.5 892.9L1012.7 895.5L1014.0 897.6L1015.3 898.1L1016.6 899.1L1017.9 900.2L1019.1 899.9L1020.4 900.9L1021.7 900.9L1023.0 900.9L1024.3 900.8L1025.5 900.6L1026.8 900.4L1028.1 900.9L1029.4 900.7L1030.7 900.7L1031.9 900.5L1033.2 900.5L1034.5 900.8L1035.8 900.4L1037.1 900.6L1038.3 901.0L1039.6 901.0L1040.9 901.1L1042.2 901.0L1043.5 901.5L1044.7 901.3L1046.0 900.7L1047.3 900.1L1048.6 900.2L1049.9 900.0L1051.1 899.8L1052.4 899.5L1053.7 899.5L1055.0 898.9L1056.3 899.1L1057.5 899.2L1058.8 899.2L1060.1 899.2L1061.4 899.0L1062.0 898.7L1062.7 898.6L1063.9 898.9L1065.2 898.7L1066.5 898.7L1067.8 899.5L1069.1 899.6L1070.3 899.5L1071.6 900.0L1072.9 900.2L1074.2 900.2L1075.5 900.3L1076.7 900.7L1078.0 900.4L1079.3 900.7L1080.6 901.3L1081.9 901.6L1083.1 901.8L1084.4 901.5L1085.7 902.0L1087.0 902.1L1088.3 902.1L1089.5 901.6L1090.8 901.5L1092.1 901.5L1093.4 901.3L1094.7 901.1L1095.9 901.1L1097.2 900.9L1098.5 901.8L1099.8 901.1L1101.1 901.2L1102.3 901.0L1103.6 901.4L1104.9 901.6L1106.2 901.6L1107.5 901.6L1108.7 902.4L1110.0 902.0L1111.3 901.9L1112.6 901.7L1113.9 901.8L1115.1 901.5L1116.4 901.8L1117.7 901.4L1119.0 901.3L1120.3 901.3L1121.5 901.1L1122.8 901.1L1124.1 901.3L1125.4 900.2L1126.7 899.5L1127.9 899.3L1129.2 898.1L1130.5 897.4L1131.8 896.1L1133.1 895.0L1134.3 894.1L1135.0 893.8L1135.6 894.3L1136.9 894.8L1138.2 895.3L1139.5 896.2L1140.7 897.3L1142.0 898.2L1143.3 899.1L1144.6 899.9L1145.9 901.0L1147.1 900.8L1148.4 901.0L1149.7 901.2L1151.0 901.9L1152.3 901.2L1153.5 902.0L1154.8 901.9L1156.1 901.3L1157.4 901.6L1158.7 901.7L1159.9 902.1L1161.2 901.1L1162.5 901.4L1163.8 901.1L1165.1 901.2L1166.3 900.6L1167.6 900.5L1168.9 900.9L1170.2 900.0L1171.5 898.7L1172.7 898.0L1174.0 896.9L1175.3 896.3L1176.0 896.0L1176.6 896.8L1177.9 897.1L1179.1 898.2L1180.4 899.1L1181.7 899.5L1183.0 899.9L1184.3 900.7L1185.5 900.5L1186.8 901.0L1188.1 901.3L1189.4 901.9L1190.7 902.0L1191.9 901.8L1193.2 901.7L1194.5 901.7L1195.8 901.3L1197.1 901.2L1198.3 901.8L1199.6 901.7L1200.9 902.1L1202.2 902.2L1203.5 901.8L1204.7 901.9L1206.0 901.3L1207.3 901.5L1208.6 901.2L1209.9 901.6L1211.1 901.6L1212.4 901.3L1213.7 901.9L1215.0 901.7L1216.3 901.0L1217.5 901.5L1218.8 901.3L1220.1 902.0L1221.4 901.4L1222.7 901.5L1223.9 901.5L1225.2 901.7L1226.5 901.3L1227.8 901.4L1229.1 901.2L1230.3 900.9L1231.6 900.6L1232.9 899.9L1234.2 898.7L1235.5 898.0L1236.7 896.7L1238.0 896.3L1239.3 895.0L1240.5 895.5L1240.6 895.7L1241.9 895.6L1243.1 896.1L1244.4 897.0L1245.7 897.5L1247.0 898.7L1248.3 900.0L1249.5 900.3L1250.8 901.6L1252.1 901.7L1253.4 901.6L1254.7 901.3L1255.9 901.6L1257.2 901.0L1258.5 901.7L1259.8 901.7L1261.1 902.0L1262.3 901.6L1263.6 901.8L1264.9 901.5L1266.2 901.5L1267.5 901.3L1268.7 901.5L1270.0 901.6L1271.3 901.7L1272.6 901.8L1273.9 901.8L1275.1 901.6L1276.4 902.0L1277.7 901.5L1279.0 901.1L1280.3 901.1L1281.5 901.7L1282.8 901.1L1284.1 901.1L1285.4 900.2L1286.7 900.2L1287.9 899.6L1289.2 898.6L1290.5 898.6L1291.8 898.4L1293.1 898.0L1294.0 897.3L1294.3 897.0L1295.6 897.0L1296.9 897.6L1298.2 898.2L1299.5 898.7L1300.7 899.2L1302.0 900.0L1303.3 900.6L1304.6 901.0L1305.9 900.7L1307.1 901.3L1308.4 901.9L1309.7 901.2L1311.0 901.8L1312.3 901.2L1313.5 900.8L1314.8 900.7L1316.1 900.9L1317.4 900.5L1318.7 900.9L1319.9 900.8L1321.2 901.4L1322.5 901.0L1323.8 900.9L1325.1 900.4L1326.3 900.0L1327.6 899.3L1328.9 897.8L1330.2 896.4L1331.5 894.1L1332.7 891.5L1334.0 888.5L1335.3 887.1L1336.0 887.2L1336.6 886.8L1337.9 887.8L1339.1 890.3L1340.4 893.1L1341.7 894.0L1343.0 895.1L1344.3 894.2L1345.5 892.6L1346.8 889.0L1348.1 885.7L1349.4 882.0L1350.7 879.5L1351.9 878.0L1352.0 878.2L1353.2 878.8L1354.5 881.6L1355.8 885.7L1357.1 889.7L1358.3 892.9L1359.6 895.6L1360.9 896.9L1362.2 898.5L1363.5 898.4L1364.7 898.8L1366.0 898.5L1367.3 897.6L1368.6 897.3L1369.9 896.9L1371.1 897.1L1372.4 897.0L1373.7 896.6L1375.0 896.8L1375.0 896.5L1376.3 896.7L1377.5 897.1L1378.8 897.5L1380.1 897.5L1381.4 898.2L1382.7 898.5L1383.9 898.3L1385.2 898.3L1386.5 898.4L1387.8 897.7L1389.1 896.4L1390.3 895.1L1391.6 892.6L1392.9 889.0L1394.2 885.9L1395.5 883.3L1396.7 881.3L1397.5 880.9L1398.0 881.1L1399.3 881.8L1400.6 883.4L1401.9 884.8L1403.1 885.6L1404.4 885.0L1405.7 883.7L1407.0 881.7L1408.3 880.1L1409.0 879.8L1409.5 880.1L1410.8 882.0L1412.1 885.5L1413.4 888.4L1414.7 891.4L1415.9 894.2L1417.2 895.9L1418.5 896.6L1419.8 896.5L1421.1 895.3L1422.3 894.0L1423.6 893.2L1424.9 892.5L1425.0 892.5L1426.2 893.3L1427.5 894.5L1428.7 895.6L1430.0 896.6L1431.3 897.7L1432.6 898.7L1433.9 899.0L1435.1 900.2L1436.4 900.4L1437.7 900.4L1439.0 900.5L1440.3 900.1L1441.5 900.4L1442.8 900.1L1444.1 899.5L1445.4 899.9L1446.7 900.0L1447.9 900.7L1449.2 900.2L1450.5 900.4L1451.8 900.9L1453.1 900.6L1454.3 900.2L1455.6 900.1L1456.9 900.0L1458.2 899.6L1459.5 899.9L1460.7 899.1L1462.0 898.9L1463.3 898.2L1464.6 897.5L1465.9 896.3L1467.1 895.2L1468.4 894.3L1469.7 893.6L1471.0 893.7L1471.0 893.2L1472.3 893.6L1473.5 894.2L1474.8 894.3L1476.1 895.3L1477.4 895.9L1478.7 897.5L1479.9 898.2L1481.2 898.7L1482.5 898.9L1483.8 899.4L1485.1 899.6L1486.3 899.6L1487.6 899.1L1488.9 898.8L1490.2 898.4L1491.5 898.0L1492.7 897.5L1494.0 897.1L1495.3 897.1L1496.6 896.7L1497.9 896.3L1499.1 895.7L1500.0 895.3L1500.4 895.6L1501.7 895.5L1503.0 896.3L1504.3 896.4L1505.5 897.3L1506.8 897.4L1508.1 897.1L1509.4 897.0L1510.7 897.1L1511.9 896.2L1513.2 895.4L1514.5 894.8L1515.8 893.4L1517.1 893.0L1518.3 891.7L1519.6 890.1L1520.9 889.5L1522.2 888.3L1522.5 889.0L1523.5 889.0L1524.7 889.6L1526.0 890.6L1527.3 891.6L1528.6 892.4L1529.9 893.9L1531.1 895.0L1532.4 896.0L1533.7 896.3L1535.0 896.4L1536.3 896.6L1537.5 896.3L1538.8 897.0L1540.1 896.6L1541.4 896.4L1542.7 896.4L1543.9 896.2L1545.2 895.9L1546.5 895.5L1547.8 893.8L1549.1 893.3L1550.3 891.7L1551.6 890.1L1552.9 888.4L1554.2 885.7L1555.5 883.3L1556.7 881.5L1558.0 879.5L1558.0 879.2L1559.3 878.1L1560.6 876.6L1561.9 873.0L1563.1 868.2L1564.4 860.2L1565.7 846.2L1567.0 826.5L1568.3 799.8L1569.5 765.6L1570.8 723.8L1572.1 677.3L1573.4 628.9L1574.7 585.0L1575.9 551.3L1577.2 535.8L1577.5 534.9L1578.5 541.7L1579.8 568.0L1581.1 608.4L1582.3 655.8L1583.6 704.1L1584.9 748.4L1586.2 786.8L1587.5 816.6L1588.7 839.6L1590.0 854.9L1591.3 865.6L1592.6 872.5L1593.0 873.9L1593.9 876.3L1595.1 879.2L1596.4 880.4L1597.7 880.9L1599.0 881.7L1600.0 882.8L1600.3 883.1L1601.5 885.2L1602.8 887.3L1604.1 889.4L1605.4 891.1L1606.7 892.8L1607.9 894.0L1609.2 894.6L1610.5 895.4L1611.8 895.9L1613.1 896.3L1614.3 896.3L1615.6 896.8L1616.9 897.4L1618.2 896.8L1619.5 897.2L1620.7 896.8L1622.0 896.7L1623.3 895.5L1624.6 894.4L1625.9 893.8L1627.1 891.8L1628.4 890.8L1629.7 890.4L1630.0 890.4L1631.0 890.3L1632.3 891.6L1633.5 892.5L1634.8 894.1L1636.1 895.8L1637.4 896.7L1638.7 898.0L1639.9 897.9L1641.2 898.5L1642.5 897.5L1643.8 897.4L1645.1 895.9L1646.3 894.5L1647.6 892.8L1648.9 891.7L1650.2 889.7L1651.5 888.9L1652.5 888.6L1652.7 888.4L1654.0 889.3L1655.3 890.6L1656.6 891.6L1657.9 893.4L1659.1 894.4L1660.4 894.6L1661.7 895.0L1663.0 894.9L1664.3 894.0L1665.5 892.8L1666.8 892.7L1668.0 891.9L1668.1 891.6L1669.4 892.1L1670.7 893.8L1671.9 894.8L1673.2 896.1L1674.5 897.1L1675.8 897.9L1677.1 898.6L1678.3 899.2L1679.6 899.2L1680.9 899.2L1682.2 899.6L1683.5 899.2L1684.7 898.6L1686.0 898.6L1687.3 897.7L1688.6 897.5L1689.9 896.5L1691.1 895.8L1692.4 894.6L1693.7 893.8L1695.0 893.3L1696.3 892.7L1697.0 892.7L1697.5 892.7L1698.8 893.2L1700.1 893.5L1701.4 895.1L1702.7 896.4L1703.9 897.0L1705.2 897.8L1706.5 898.4L1707.8 899.0L1709.1 899.2L1710.3 899.6L1711.6 899.4L1712.9 899.5L1714.2 900.0L1715.5 899.4L1716.7 899.4L1718.0 899.0L1719.3 899.7L1720.6 899.3L1721.9 898.9L1723.1 898.1L1724.4 897.5L1725.7 896.3L1727.0 895.3L1728.3 892.8L1729.5 890.4L1730.8 887.1L1732.1 884.5L1733.4 881.6L1734.7 880.3L1735.0 880.5L1735.9 880.6L1737.2 882.6L1738.5 885.4L1739.8 888.7L1741.1 891.6L1742.3 894.1L1743.6 896.1L1744.9 897.1L1746.2 897.5L1747.5 898.5L1748.7 898.1L1750.0 897.9L1751.3 897.0L1752.6 896.5L1753.9 896.1L1755.1 895.2L1756.4 895.2L1757.0 894.8L1757.7 895.4L1759.0 895.8L1760.3 896.5L1761.5 897.2L1762.8 897.9L1764.1 898.0L1765.4 898.4L1766.7 898.7L1767.9 899.3L1769.2 898.9L1770.5 898.5L1771.8 897.2L1773.1 896.3L1774.3 894.2L1775.6 891.3L1776.9 888.8L1778.2 886.1L1779.5 883.9L1780.7 883.5L1781.0 883.5L1782.0 883.9L1783.3 886.0L1784.6 887.9L1785.9 891.2L1787.1 893.8L1788.4 895.5L1789.7 897.1L1791.0 897.8L1792.3 898.6L1793.5 898.9L1794.8 898.7L1796.1 899.1L1797.4 899.6L1798.7 900.0L1799.9 900.0L1801.2 900.0L1802.5 900.2L1803.8 900.4L1805.1 899.9L1806.3 899.9L1807.6 900.0L1808.9 899.3L1810.2 899.2L1811.5 899.0L1812.7 898.0L1814.0 898.1L1815.3 897.3L1816.6 896.2L1817.9 895.4L1819.1 894.8L1820.4 894.4L1821.7 893.5L1823.0 893.3L1824.3 892.6L1825.0 893.3L1825.5 892.7L1826.8 892.9L1828.1 893.3L1829.4 894.4L1830.7 894.8L1831.9 895.9L1833.2 896.4L1834.5 897.2L1835.8 897.7L1837.1 898.0L1838.3 898.5L1839.6 898.5L1840.9 898.6L1842.2 898.0L1843.5 898.0L1844.7 897.3L1846.0 896.8L1847.3 896.1L1848.6 895.8L1849.9 896.2L1850.0 896.5L1851.1 896.8L1852.4 896.7L1853.7 897.4L1855.0 898.0L1856.3 898.6L1857.5 899.1L1858.8 899.0L1860.1 899.6L1861.4 900.1L1862.7 900.3L1863.9 900.1L1865.2 900.0L1866.5 900.2L1867.8 900.4L1869.1 899.7L1870.3 899.6L1871.6 899.4L1872.9 898.3L1874.2 898.3L1875.5 897.8L1876.7 897.4L1878.0 896.3L1879.3 895.8L1880.0 895.7L1880.6 895.8L1881.9 896.1L1883.1 896.8L1884.4 897.7L1885.7 898.0L1887.0 898.5L1888.3 899.3L1889.5 899.8L1890.8 900.4L1892.1 900.9L1893.4 900.4L1894.7 899.7L1895.9 900.2L1897.2 900.0L1898.5 899.9L1899.8 900.3L1901.1 901.0L1902.3 900.5L1903.6 900.5L1904.9 900.7L1906.2 900.1L1907.5 900.8L1908.7 901.2L1910.0 901.4L1911.3 901.2L1912.6 901.1L1913.9 900.9L1915.1 901.3L1916.4 900.6L1917.7 900.9L1919.0 900.3L1920.3 900.7L1921.5 900.6L1922.8 900.7L1924.1 900.3L1925.4 900.6L1926.7 900.9L1927.9 900.5L1929.2 900.3L1930.5 900.7L1931.8 900.0L1933.1 900.5L1934.3 900.7L1935.6 900.4L1936.9 900.4L1938.2 900.3L1939.5 901.0L1940.7 901.4L1942.0 901.2L1943.3 901.1L1944.6 901.1L1945.9 900.6L1947.1 900.9L1948.4 900.1L1949.7 900.5L1951.0 900.6L1952.3 900.5L1953.5 900.7L1954.8 900.9L1956.1 900.6L1957.4 900.8L1958.7 900.7L1959.9 900.8L1961.2 900.4L1962.5 900.8L1963.8 900.9L1965.1 900.5L1966.3 900.8L1967.6 900.5L1968.9 900.8L1970.2 900.8L1971.5 901.0L1972.7 901.0L1974.0 901.5L1975.3 901.4L1976.6 901.3L1977.9 900.8L1979.1 900.7L1980.4 901.0L1981.7 901.1L1983.0 900.7L1984.3 901.6L1985.5 901.4L1986.8 900.8L1988.1 901.2L1989.4 900.8L1990.7 901.0L1991.9 900.8L1993.2 900.7L1994.5 900.9L1995.8 901.0L1997.1 900.7L1998.3 901.0L1999.6 900.8L2000.9 900.9L2002.2 900.6L2003.5 900.6L2004.7 901.0L2006.0 900.4L2007.3 900.4L2008.6 900.8L2009.9 900.7L2011.1 900.5L2012.4 900.7L2013.7 900.3L2015.0 900.4L2016.3 900.5L2017.5 900.3L2018.8 900.4L2020.1 900.5L2021.4 900.3L2022.7 900.3L2023.9 899.6L2025.2 899.6L2026.5 899.1L2027.8 899.1L2029.1 898.1L2030.3 897.1L2031.6 894.9L2032.9 893.7L2034.2 892.3L2035.5 890.5L2036.7 889.0L2038.0 888.4L2038.8 888.1L2039.3 888.1L2040.6 888.4L2041.9 890.0L2043.1 891.7L2044.4 893.1L2045.7 894.8L2047.0 896.2L2048.3 897.4L2049.5 898.1L2050.8 898.5L2052.1 899.4L2053.4 899.4L2054.7 899.8L2055.9 900.1L2057.2 899.9L2058.5 899.9L2059.8 900.5L2061.1 900.3L2062.3 900.2L2063.6 900.3L2064.9 900.3L2066.2 900.2L2067.5 900.9L2068.7 901.1L2070.0 900.9L2071.3 900.6L2072.6 900.6L2073.9 900.6L2075.1 899.8L2076.4 900.6L2077.7 900.0L2079.0 900.0L2080.3 899.9L2081.5 899.5L2082.8 899.7L2084.1 899.5L2085.4 899.2L2086.7 898.6L2087.9 898.6L2089.2 898.3L2090.5 897.6L2091.8 897.1L2093.1 896.8L2094.3 896.5L2095.0 896.9L2095.6 897.3L2096.9 897.6L2098.2 897.8L2099.5 898.0L2100.7 898.0L2102.0 898.4L2103.3 898.3L2104.6 898.9L2105.9 899.1L2107.1 899.5L2108.4 899.6L2109.7 899.9L2111.0 899.9L2112.3 900.3L2113.5 900.8L2114.8 901.1L2116.1 900.6L2117.4 901.4L2118.7 900.9L2119.9 900.6L2121.2 900.8L2122.5 901.1L2123.8 900.3L2125.1 901.1L2126.3 900.6L2127.6 900.5L2128.9 899.7L2130.2 899.5L2131.5 899.0L2132.7 899.0L2134.0 898.3L2135.3 898.4L2136.6 897.9L2137.9 897.5L2139.1 897.8L2140.4 897.7L2141.7 897.3L2143.0 896.5L2144.3 896.5L2145.0 896.4L2145.5 896.2L2146.8 896.3L2148.1 897.3L2149.4 896.8L2150.7 897.6L2151.9 897.4L2153.2 898.3L2154.5 897.9L2155.8 898.1L2157.1 898.9L2158.3 899.2L2159.6 899.3L2160.9 899.8L2162.2 900.0L2163.5 900.3L2164.7 900.3L2166.0 900.7L2167.3 900.0L2168.6 900.4L2169.9 900.1L2171.1 899.7L2172.4 900.3L2173.7 899.5L2175.0 899.9L2176.3 899.1L2177.5 899.4L2178.8 899.0L2180.1 898.7L2181.4 897.7L2182.7 897.6L2183.9 897.5L2185.2 897.0L2186.5 896.4L2187.8 896.2L2189.1 895.8L2190.0 896.1L2190.3 895.7L2191.6 896.0L2192.9 895.6L2194.2 896.2L2195.5 897.5L2196.7 897.4L2198.0 897.9L2199.3 898.6L2200.6 899.1L2201.9 899.3L2203.1 899.6L2204.4 900.2L2205.7 900.2L2207.0 900.7L2208.3 900.8L2209.5 901.0L2210.8 901.5L2212.1 901.1L2213.4 900.2L2214.7 900.8L2215.9 900.8L2217.2 901.3L2218.5 900.8L2219.8 900.8L2221.1 901.0L2222.3 901.2L2223.6 900.8L2224.9 900.8L2226.2 900.5L2227.5 900.9L2228.7 900.7L2230.0 901.1L2231.3 901.1L2232.6 901.5L2233.9 901.2L2235.1 901.8L2236.4 901.2L2237.7 901.2L2239.0 900.7L2240.3 900.8L2241.5 901.3L2242.8 900.7L2244.1 900.5L2245.4 901.0L2246.7 901.2L2247.9 901.2L2249.2 901.1L2250.5 901.1L2251.8 901.3L2253.1 900.7L2254.3 901.2L2255.6 901.3L2256.9 901.0L2258.2 901.5L2259.5 901.0L2260.7 900.8L2262.0 900.7L2263.3 900.8L2264.6 899.9L2265.9 900.2L2267.1 900.2L2268.4 899.2L2269.7 898.9L2271.0 898.2L2272.3 898.2L2273.5 897.5L2274.8 897.4L2276.1 897.5L2277.4 897.6L2278.7 896.7L2279.9 896.4L2280.0 896.7L2281.2 896.9L2282.5 897.0L2283.8 897.1L2285.1 897.7L2286.3 898.2L2287.6 898.4L2288.9 898.4L2290.2 898.5L2291.5 899.3L2292.7 898.8L2294.0 899.5L2295.3 899.7L2296.6 899.6L2297.9 900.0L2299.1 900.2L2300.4 900.7L2301.7 900.6L2303.0 900.6L2304.3 900.6L2305.5 900.8L2306.8 901.0L2308.1 900.8L2309.4 900.5L2310.7 901.0L2311.9 901.0L2313.2 901.0L2314.5 900.6L2315.8 901.3L2317.1 901.1L2318.3 901.3L2319.6 901.3L2320.9 901.6L2322.2 901.6L2323.5 901.6L2324.7 901.5L2326.0 901.2L2327.3 901.3L2328.6 901.2L2329.9 901.0L2331.1 901.2L2332.4 901.0L2333.7 900.7L2335.0 900.7L2336.3 900.6L2337.5 900.8L2338.8 901.3L2340.1 901.2L2341.4 901.0L2342.7 901.6L2343.9 901.1L2345.2 901.2L2346.5 901.0L2347.8 901.1L2349.1 901.1L2350.3 901.1L2351.6 901.0L2352.9 900.4L2354.2 900.7L2355.5 900.7L2356.7 900.7L2358.0 900.6L2359.3 900.6L2360.6 900.6L2361.9 900.3L2363.1 900.8L2364.4 901.0L2365.7 900.8L2367.0 900.8L2368.3 900.8L2369.5 900.7L2370.8 900.7L2372.1 900.8L2373.4 900.7L2374.7 900.8L2375.9 900.7L2377.2 901.3L2378.5 901.2L2379.8 901.4L2381.1 901.6L2382.3 901.2L2383.6 900.9L2384.9 901.1L2386.2 900.9L2387.5 900.4L2388.7 900.8L2390.0 900.7L2391.3 900.3L2392.6 900.1L2393.9 900.3L2395.1 900.1L2396.4 900.4L2397.7 900.1L2399.0 900.6L2400.3 900.7L2401.5 901.2L2402.8 900.8L2404.1 901.0L2405.4 900.8L2406.7 900.4L2407.9 900.3L2409.2 900.1L2410.5 900.2L2411.8 900.9L2413.1 900.9L2414.3 900.7L2415.6 900.5L2416.9 900.4L2418.2 900.4L2419.5 899.3L2420.7 899.2L2422.0 898.3L2423.3 898.1L2424.6 896.7L2425.9 896.3L2427.1 895.8L2427.5 895.8L2428.4 896.3L2429.7 896.3L2431.0 897.0L2432.3 897.6L2433.5 898.0L2434.8 898.7L2436.1 899.5L2437.4 899.8L2438.7 900.0L2439.9 899.8"/>
<path class="c" d="M202.5 1278.2L203.8 1276.3L205.1 1278.4L206.3 1277.8L207.6 1278.1L208.9 1278.1L210.2 1278.5L211.5 1277.4L212.7 1277.4L214.0 1277.8L215.3 1277.7L216.6 1277.8L217.9 1277.8L219.1 1278.1L220.4 1278.4L221.7 1277.4L223.0 1277.1L224.3 1276.5L225.5 1278.0L226.8 1276.8L228.1 1278.2L229.4 1277.8L230.7 1278.6L231.9 1278.7L233.2 1278.7L234.5 1278.7L235.8 1277.5L237.1 1278.4L238.3 1277.0L239.6 1277.7L240.9 1278.4L242.2 1278.3L243.5 1278.7L244.7 1278.5L246.0 1278.6L247.3 1279.7L248.6 1279.8L249.9 1278.8L251.1 1278.3L252.4 1279.4L253.7 1277.8L255.0 1277.8L256.3 1278.1L257.5 1279.2L258.8 1279.1L260.1 1279.2L261.4 1279.4L262.7 1278.1L263.9 1278.2L265.2 1278.8L266.5 1278.7L267.8 1279.1L269.1 1279.2L270.3 1279.7L271.6 1279.1L272.9 1278.8L274.2 1278.2L275.5 1279.1L276.7 1278.6L278.0 1278.2L279.3 1278.0L280.6 1279.2L281.9 1278.2L283.1 1278.2L284.4 1278.8L285.7 1278.8L287.0 1277.8L288.3 1276.4L289.5 1276.9L290.8 1277.0L292.1 1276.9L293.4 1277.4L294.7 1278.1L295.9 1276.8L297.2 1276.3L298.5 1276.8L299.8 1275.7L301.1 1275.3L302.3 1274.0L303.6 1273.0L304.9 1272.0L306.2 1269.3L307.5 1265.7L308.7 1261.4L310.0 1252.7L311.3 1239.7L312.6 1225.8L313.9 1216.8L314.2 1215.6L315.1 1218.8L316.4 1230.6L317.7 1243.0L319.0 1254.7L320.3 1261.7L321.5 1266.6L322.8 1270.2L324.1 1270.6L325.4 1271.9L326.7 1272.4L327.9 1273.1L329.2 1273.8L330.5 1272.5L331.8 1270.2L333.1 1268.2L334.3 1264.1L335.6 1259.1L336.9 1256.2L338.2 1252.1L338.2 1252.9L339.5 1254.1L340.7 1259.3L342.0 1263.3L343.3 1266.7L344.6 1269.1L345.9 1270.7L347.1 1270.1L348.4 1270.2L349.7 1269.2L351.0 1267.9L352.3 1263.1L353.5 1256.5L354.8 1248.3L356.1 1240.7L357.4 1232.6L358.0 1232.5L358.7 1234.1L359.9 1241.1L361.2 1250.0L362.5 1258.4L363.8 1264.5L365.1 1267.8L366.3 1272.4L367.6 1273.4L368.9 1274.1L370.2 1274.6L371.5 1274.7L372.7 1276.2L374.0 1275.7L375.3 1276.4L376.6 1275.5L377.9 1276.5L379.1 1276.7L380.4 1275.6L381.7 1275.6L383.0 1275.2L384.3 1275.1L385.5 1275.1L386.8 1274.4L388.1 1273.4L389.4 1273.3L390.7 1272.8L391.9 1271.7L393.2 1271.0L394.5 1269.6L395.8 1267.0L397.1 1264.0L398.3 1260.7L399.6 1253.1L400.9 1243.6L402.2 1231.8L403.5 1215.2L404.7 1197.4L406.0 1182.6L407.3 1175.3L407.5 1176.3L408.6 1181.3L409.9 1193.5L411.1 1211.4L412.4 1226.9L413.7 1241.0L415.0 1250.9L416.3 1257.5L417.5 1263.1L418.8 1266.6L420.1 1267.9L421.4 1270.3L422.7 1272.5L423.9 1273.7L425.2 1275.6L426.5 1275.7L427.8 1276.6L429.1 1276.9L430.3 1276.4L431.6 1276.1L432.9 1276.5L434.2 1278.3L435.5 1278.8L436.7 1279.0L438.0 1278.4L439.3 1278.4L440.6 1279.5L441.9 1278.5L443.1 1278.0L444.4 1278.3L445.7 1279.4L447.0 1278.1L448.3 1278.0L449.5 1278.7L450.8 1279.6L452.1 1280.6L453.4 1280.2L454.7 1279.2L455.9 1278.5L457.2 1278.9L458.5 1278.5L459.8 1278.4L461.1 1279.1L462.3 1278.7L463.6 1280.1L464.9 1278.6L466.2 1279.6L467.5 1278.9L468.7 1280.1L470.0 1279.4L471.3 1279.6L472.6 1280.1L473.9 1280.1L475.1 1280.5L476.4 1279.3L477.7 1280.6L479.0 1280.1L480.3 1280.1L481.5 1280.2L482.8 1279.9L484.1 1280.2L485.4 1277.7L486.7 1278.2L487.9 1279.8L489.2 1278.9L490.5 1279.2L491.8 1279.7L493.1 1279.9L494.3 1278.4L495.6 1279.4L496.9 1279.8L498.2 1280.3L499.5 1280.0L500.7 1280.6L502.0 1279.5L503.3 1280.2L504.6 1279.6L505.9 1280.2L507.1 1280.3L508.4 1280.1L509.7 1280.5L511.0 1280.4L512.3 1280.3L513.5 1280.2L514.8 1279.7L516.1 1279.8L517.4 1279.9L518.7 1280.1L519.9 1280.6L521.2 1279.1L522.5 1279.9L523.8 1279.7L525.1 1280.2L526.3 1280.7L527.6 1280.5L528.9 1280.8L530.2 1280.3L531.5 1278.8L532.7 1279.2L534.0 1280.4L535.3 1281.1L536.6 1280.2L537.9 1279.9L539.1 1281.3L540.4 1279.4L541.7 1279.9L543.0 1280.0L544.3 1280.2L545.5 1280.2L546.8 1280.1L548.1 1281.2L549.4 1280.2L550.7 1279.2L551.9 1279.5L553.2 1279.8L554.5 1279.4L555.8 1279.7L557.1 1280.4L558.3 1280.5L559.6 1279.9L560.9 1280.8L562.2 1280.0L563.5 1279.7L564.7 1278.9L566.0 1279.4L567.3 1279.7L568.6 1280.6L569.9 1280.4L571.1 1280.4L572.4 1280.8L573.7 1280.5L575.0 1280.5L576.3 1280.2L577.5 1279.3L578.8 1279.3L580.1 1278.4L581.4 1278.9L582.7 1278.1L583.9 1278.4L585.2 1278.6L586.5 1278.2L587.8 1277.7L589.1 1278.2L590.3 1277.5L591.6 1277.8L592.9 1277.7L594.2 1276.9L595.5 1277.8L596.7 1278.3L598.0 1276.9L599.3 1276.8L600.6 1274.9L601.9 1274.5L603.1 1274.3L604.4 1272.5L605.7 1272.9L607.0 1272.0L608.3 1271.5L609.5 1269.8L610.8 1267.8L612.1 1265.2L613.4 1260.9L614.7 1258.4L615.9 1252.2L617.2 1244.3L618.5 1231.6L619.8 1218.4L621.1 1200.9L622.3 1180.3L623.6 1161.1L624.9 1145.7L626.2 1140.0L626.2 1139.8L627.5 1145.1L628.7 1160.7L630.0 1180.4L631.3 1199.3L632.6 1216.6L633.9 1230.8L635.1 1241.6L636.4 1250.2L637.7 1255.3L639.0 1261.0L640.3 1264.4L641.5 1266.9L642.8 1268.4L644.1 1270.2L645.4 1271.2L646.7 1272.3L647.9 1273.0L649.2 1273.4L650.5 1273.5L651.8 1274.1L653.1 1274.3L654.3 1274.2L655.6 1274.7L656.9 1274.4L658.2 1275.4L659.5 1274.4L660.7 1274.6L662.0 1274.1L663.3 1274.4L664.6 1273.7L665.9 1273.2L667.1 1272.2L668.4 1272.0L669.7 1272.6L671.0 1272.4L672.3 1272.0L673.5 1269.3L674.8 1269.0L676.1 1266.3L677.4 1264.2L678.7 1261.4L679.9 1257.2L681.2 1249.6L682.5 1240.3L683.8 1228.3L685.1 1213.6L686.3 1196.7L687.6 1178.6L688.9 1169.2L689.5 1167.6L690.2 1169.9L691.5 1180.8L692.7 1198.0L694.0 1213.8L695.3 1230.0L696.6 1241.9L697.9 1251.1L699.1 1257.6L700.4 1261.7L701.7 1265.7L703.0 1267.4L704.3 1268.0L705.5 1269.0L706.8 1270.2L708.1 1270.4L709.4 1270.8L710.7 1270.1L711.9 1269.9L713.2 1268.9L714.5 1266.2L715.8 1262.7L717.1 1258.0L718.3 1253.9L719.6 1251.2L720.0 1250.0L720.9 1251.4L722.2 1255.3L723.5 1261.9L724.7 1264.4L726.0 1267.3L727.3 1269.1L728.6 1270.6L729.9 1272.0L731.1 1270.8L732.4 1271.9L733.7 1270.6L735.0 1269.8L736.3 1268.7L737.5 1267.4L738.8 1264.7L740.1 1261.8L741.4 1257.3L742.7 1249.3L743.9 1238.4L745.2 1223.5L746.5 1206.7L747.8 1187.7L749.1 1172.8L750.0 1168.8L750.3 1170.1L751.6 1179.9L752.9 1198.0L754.2 1216.2L755.5 1233.1L756.7 1244.5L758.0 1254.1L759.3 1260.3L760.6 1263.9L761.9 1266.1L763.1 1268.4L764.4 1269.2L765.7 1270.0L767.0 1270.1L768.3 1270.1L769.5 1270.6L770.8 1271.8L772.1 1271.4L773.4 1269.5L774.7 1269.0L775.9 1268.5L777.2 1266.7L778.5 1264.8L779.8 1261.4L781.1 1256.5L782.3 1250.4L783.6 1242.2L784.9 1233.2L786.2 1222.6L787.5 1213.7L788.7 1206.8L789.5 1205.3L790.0 1205.0L791.3 1210.9L792.6 1216.4L793.9 1223.3L795.1 1229.0L796.4 1233.7L797.0 1236.6L797.7 1239.7L799.0 1246.6L800.3 1252.9L801.5 1257.6L802.8 1258.1L804.1 1260.7L805.0 1261.4L805.4 1260.9L806.7 1261.0L807.9 1260.9L809.2 1258.5L810.5 1255.9L811.8 1251.0L813.1 1247.0L814.3 1244.1L814.5 1243.2L815.6 1245.1L816.9 1248.7L818.2 1252.5L819.5 1255.2L820.7 1257.9L822.0 1259.5L822.5 1260.4L823.3 1261.7L824.6 1266.0L825.9 1269.5L827.1 1271.2L828.4 1272.7L829.7 1274.2L831.0 1276.2L832.3 1277.3L833.5 1276.8L834.8 1277.0L836.1 1276.9L837.4 1278.9L838.7 1277.2L839.9 1278.1L841.2 1278.3L842.5 1278.5L843.8 1277.7L845.1 1277.5L846.3 1278.4L847.6 1278.2L848.9 1278.9L850.2 1277.6L851.5 1277.8L852.7 1278.2L854.0 1278.2L855.3 1278.9L856.6 1279.9L857.9 1279.6L859.1 1278.9L860.4 1279.8L861.7 1279.5L863.0 1279.4L864.3 1280.1L865.5 1279.0L866.8 1279.8L868.1 1280.3L869.4 1280.1L870.7 1280.6L871.9 1280.2L873.2 1281.3L874.5 1280.3L875.8 1279.5L877.1 1279.4L878.3 1279.7L879.6 1279.7L880.9 1279.5L882.2 1279.4L883.5 1280.3L884.7 1281.2L886.0 1280.3L887.3 1279.8L888.6 1280.7L889.9 1280.1L891.1 1279.7L892.4 1280.6L893.7 1280.3L895.0 1280.6L896.3 1281.0L897.5 1280.8L898.8 1280.4L900.1 1280.2L901.4 1280.8L902.7 1281.1L903.9 1281.8L905.2 1280.6L906.5 1280.2L907.8 1281.1L909.1 1280.3L910.3 1280.1L911.6 1280.5L912.9 1280.7L914.2 1280.6L915.5 1281.0L916.7 1280.9L918.0 1280.8L919.3 1280.3L920.6 1279.7L921.9 1280.5L923.1 1281.0L924.4 1281.0L925.7 1281.0L927.0 1281.6L928.3 1281.3L929.5 1282.1L930.8 1282.9L932.1 1282.3L933.4 1282.1L934.7 1282.1L935.9 1281.3L937.2 1280.5L938.5 1281.1L939.8 1280.6L941.1 1280.9L942.3 1280.4L943.6 1280.2L944.9 1280.7L946.2 1282.0L947.5 1280.3L948.7 1281.5L950.0 1281.5L951.3 1281.6L952.6 1281.1L953.9 1281.8L955.1 1281.8L956.4 1282.4L957.7 1282.0L959.0 1282.0L960.3 1281.8L961.5 1282.2L962.8 1281.7L964.1 1282.2L965.4 1282.8L966.7 1281.9L967.9 1281.8L969.2 1282.1L970.5 1280.7L971.8 1281.4L973.1 1281.0L974.3 1280.6L975.6 1280.4L976.9 1281.3L978.2 1281.2L979.5 1281.4L980.7 1281.4L982.0 1281.1L983.3 1281.1L984.6 1281.4L985.9 1280.9L987.1 1280.4L988.4 1280.4L989.7 1281.6L991.0 1279.7L992.3 1280.4L993.5 1280.8L994.8 1279.0L996.1 1277.8L997.4 1277.5L998.7 1277.5L999.9 1275.9L1001.2 1274.9L1002.5 1274.3L1003.8 1273.0L1005.0 1272.0L1005.1 1272.7L1006.3 1273.3L1007.6 1274.4L1008.9 1275.1L1010.2 1275.1L1011.5 1277.5L1012.7 1277.3L1014.0 1277.8L1015.3 1278.7L1016.6 1279.1L1017.9 1278.9L1019.1 1279.0L1020.4 1279.8L1021.7 1280.1L1023.0 1280.2L1024.3 1280.7L1025.5 1279.5L1026.8 1279.7L1028.1 1279.9L1029.4 1279.4L1030.7 1279.2L1031.9 1279.1L1033.2 1280.0L1034.5 1280.0L1035.8 1278.7L1037.1 1280.2L1038.3 1279.0L1039.6 1279.3L1040.9 1278.2L1042.2 1278.9L1043.5 1277.9L1044.7 1277.5L1046.0 1277.5L1047.3 1276.5L1048.6 1275.1L1049.9 1273.0L1051.1 1270.6L1052.4 1267.3L1053.7 1263.6L1055.0 1260.2L1056.3 1255.6L1057.5 1252.1L1058.8 1251.2L1058.8 1250.3L1060.1 1252.1L1061.4 1255.1L1062.7 1260.2L1063.9 1264.5L1065.2 1267.7L1066.5 1270.6L1067.8 1272.2L1069.1 1273.3L1070.3 1274.0L1071.6 1275.5L1072.9 1275.8L1074.2 1274.2L1075.5 1275.1L1076.7 1275.6L1078.0 1274.8L1079.3 1275.2L1080.0 1275.2L1080.6 1274.9L1081.9 1275.5L1083.1 1275.4L1084.4 1276.1L1085.7 1275.8L1087.0 1276.5L1088.3 1277.3L1089.5 1277.2L1090.8 1277.5L1092.1 1276.7L1093.4 1277.0L1094.7 1276.7L1095.9 1276.2L1097.2 1276.3L1098.5 1275.6L1099.8 1274.8L1101.1 1273.8L1102.3 1272.5L1103.6 1271.1L1104.9 1269.3L1106.2 1265.6L1107.5 1263.6L1108.7 1258.9L1110.0 1254.8L1111.3 1252.0L1112.5 1251.2L1112.6 1251.3L1113.9 1251.8L1115.1 1256.4L1116.4 1259.2L1117.7 1263.5L1119.0 1267.2L1120.3 1269.2L1121.5 1270.9L1122.8 1273.4L1124.1 1274.9L1125.4 1275.6L1126.7 1275.9L1127.9 1277.3L1129.2 1276.8L1130.5 1276.6L1131.8 1278.0L1133.1 1278.5L1134.3 1277.8L1135.6 1279.2L1136.9 1278.2L1138.2 1279.0L1139.5 1280.3L1140.7 1280.1L1142.0 1279.7L1143.3 1280.1L1144.6 1279.5L1145.9 1280.0L1147.1 1280.0L1148.4 1279.6L1149.7 1280.3L1151.0 1280.3L1152.3 1280.2L1153.5 1280.4L1154.8 1280.0L1156.1 1279.3L1157.4 1279.7L1158.7 1278.7L1159.9 1279.4L1161.2 1279.8L1162.5 1280.5L1163.8 1280.1L1165.1 1278.9L1166.3 1280.4L1167.6 1280.2L1168.9 1279.6L1170.2 1280.1L1171.5 1280.3L1172.7 1279.4L1174.0 1279.5L1175.3 1280.3L1176.6 1278.5L1177.9 1279.5L1179.1 1279.3L1180.4 1279.0L1181.7 1278.9L1183.0 1277.9L1184.3 1276.5L1185.5 1274.9L1186.8 1273.5L1188.1 1273.3L1188.8 1272.3L1189.4 1271.8L1190.7 1272.6L1191.9 1273.1L1193.2 1274.4L1194.5 1276.9L1195.8 1276.7L1197.1 1277.2L1198.3 1277.0L1199.6 1277.1L1200.9 1278.0L1202.2 1278.5L1203.5 1278.7L1204.7 1279.4L1206.0 1278.9L1207.3 1277.6L1208.6 1278.4L1209.9 1277.5L1211.1 1276.2L1212.4 1275.4L1213.7 1274.8L1215.0 1274.4L1216.3 1272.4L1217.5 1270.2L1218.8 1269.6L1218.8 1269.1L1220.1 1270.4L1221.4 1272.1L1222.7 1274.4L1223.9 1275.0L1225.2 1277.0L1226.5 1277.3L1227.8 1278.3L1229.1 1278.0L1230.3 1278.0L1231.6 1277.1L1232.9 1278.2L1234.2 1276.7L1235.5 1277.9L1236.7 1276.7L1238.0 1276.6L1239.3 1274.9L1240.6 1274.8L1241.9 1273.3L1243.1 1272.1L1244.4 1272.0L1245.0 1272.1L1245.7 1272.7L1247.0 1273.9L1248.3 1274.5L1249.5 1275.4L1250.8 1276.8L1252.1 1276.7L1253.4 1278.2L1254.7 1278.6L1255.9 1278.9L1257.2 1279.5L1258.5 1278.5L1259.8 1279.1L1261.1 1279.5L1262.3 1278.6L1263.6 1279.0L1264.9 1279.8L1266.2 1279.8L1267.5 1279.0L1268.7 1280.1L1270.0 1279.7L1271.3 1279.4L1272.6 1279.2L1273.9 1279.6L1275.1 1278.7L1276.4 1278.5L1277.7 1278.1L1279.0 1277.9L1280.3 1276.8L1281.5 1277.4L1282.8 1277.2L1284.1 1278.0L1285.4 1276.6L1286.7 1275.7L1287.9 1274.2L1289.2 1272.0L1290.5 1269.7L1291.8 1266.9L1293.1 1264.5L1294.3 1263.6L1295.0 1263.7L1295.6 1264.3L1296.9 1264.9L1298.2 1266.6L1299.5 1269.5L1300.7 1272.1L1302.0 1274.9L1303.3 1275.6L1304.6 1276.1L1305.9 1276.2L1307.1 1277.3L1308.4 1278.1L1309.7 1279.0L1311.0 1280.2L1312.3 1279.4L1313.5 1278.6L1314.8 1279.3L1316.1 1278.7L1317.4 1279.7L1318.7 1280.2L1319.9 1280.0L1321.2 1279.5L1322.5 1279.7L1323.8 1280.5L1325.1 1279.2L1326.3 1279.2L1327.6 1278.9L1328.9 1279.3L1330.2 1279.3L1331.5 1279.6L1332.7 1279.9L1334.0 1279.9L1335.3 1280.4L1336.6 1280.4L1337.9 1279.6L1339.1 1279.8L1340.4 1279.7L1341.7 1279.7L1343.0 1280.1L1344.3 1279.0L1345.5 1279.4L1346.8 1280.4L1348.1 1280.3L1349.4 1279.9L1350.7 1280.1L1351.9 1279.4L1353.2 1279.6L1354.5 1278.9L1355.8 1279.6L1357.1 1280.0L1358.3 1279.5L1359.6 1279.7L1360.9 1279.0L1362.2 1277.9L1363.5 1277.8L1364.7 1277.4L1366.0 1277.3L1367.3 1277.9L1368.6 1276.5L1369.9 1277.5L1371.1 1277.5L1372.4 1276.9L1373.7 1275.3L1375.0 1274.4L1376.3 1271.2L1377.5 1268.8L1378.8 1268.2L1380.0 1266.4L1380.1 1267.7L1381.4 1267.4L1382.7 1268.3L1383.9 1271.5L1385.2 1271.4L1386.5 1273.8L1387.8 1273.0L1389.1 1273.7L1390.3 1274.8L1391.6 1275.0L1392.9 1274.5L1394.2 1275.6L1395.5 1275.6L1396.7 1275.3L1398.0 1274.4L1399.3 1274.6L1400.6 1274.4L1401.9 1274.7L1403.1 1274.3L1404.4 1273.4L1405.7 1272.5L1407.0 1272.9L1408.3 1271.2L1409.5 1269.8L1410.8 1267.1L1412.1 1266.8L1413.4 1262.6L1414.7 1256.6L1415.9 1252.5L1417.2 1247.0L1418.5 1243.5L1418.8 1242.9L1419.8 1244.7L1421.1 1248.1L1422.3 1254.0L1423.6 1258.2L1424.9 1261.7L1426.2 1262.9L1427.5 1264.1L1428.7 1262.6L1430.0 1261.4L1431.3 1260.9L1432.5 1261.0L1432.6 1261.2L1433.9 1262.8L1435.1 1263.5L1436.4 1264.6L1437.7 1266.3L1439.0 1268.1L1440.3 1267.7L1441.5 1268.4L1442.8 1268.8L1444.1 1269.0L1445.4 1268.1L1446.7 1268.4L1447.9 1266.8L1449.2 1266.5L1450.5 1264.4L1451.8 1263.3L1453.1 1262.2L1454.3 1261.1L1455.6 1260.8L1456.2 1259.9L1456.9 1259.9L1458.2 1260.4L1459.5 1261.9L1460.0 1261.3L1460.7 1261.8L1462.0 1263.1L1463.3 1262.6L1464.6 1262.0L1465.9 1260.8L1467.1 1260.4L1468.4 1259.4L1469.7 1259.5L1470.5 1260.2L1471.0 1259.1L1472.0 1258.0L1472.3 1259.0L1473.5 1256.3L1474.8 1253.7L1476.1 1250.5L1477.4 1247.9L1477.8 1246.0L1478.7 1243.0L1479.9 1236.1L1481.2 1228.2L1482.0 1223.1L1482.5 1220.5L1483.8 1212.3L1485.1 1206.1L1486.2 1201.4L1486.3 1201.0L1487.6 1198.1L1488.9 1194.8L1490.2 1192.8L1491.2 1192.2L1491.4 1192.3L1491.5 1191.8L1492.7 1193.5L1494.0 1199.5L1494.5 1201.7L1495.3 1206.0L1496.6 1215.9L1497.7 1223.2L1497.9 1224.5L1499.1 1229.9L1500.4 1235.2L1501.7 1237.0L1501.8 1236.8L1503.0 1235.3L1504.3 1230.9L1505.5 1226.2L1506.8 1222.8L1507.1 1222.8L1508.1 1219.2L1509.4 1216.1L1510.7 1211.9L1511.3 1212.0L1511.9 1211.5L1513.2 1211.1L1514.5 1208.2L1515.8 1208.8L1516.1 1208.2L1516.2 1208.6L1517.1 1208.2L1518.3 1210.4L1519.6 1212.1L1520.9 1214.7L1522.2 1217.8L1522.8 1219.7L1523.5 1220.2L1524.7 1222.9L1526.0 1226.5L1527.3 1231.3L1528.0 1232.1L1528.6 1233.7L1529.9 1239.0L1531.1 1243.9L1532.4 1247.5L1533.2 1248.2L1533.7 1249.3L1535.0 1250.1L1536.3 1250.6L1537.5 1250.8L1537.8 1251.9L1538.8 1251.0L1540.1 1250.6L1541.4 1248.8L1542.7 1245.0L1543.9 1241.7L1544.7 1239.3L1545.2 1237.7L1546.5 1231.6L1547.8 1224.4L1548.9 1218.4L1549.1 1217.8L1550.3 1210.0L1551.6 1202.2L1552.9 1196.0L1553.1 1195.4L1554.2 1193.0L1555.5 1189.4L1556.7 1186.7L1557.3 1187.0L1558.0 1186.3L1558.8 1186.6L1559.3 1187.3L1560.6 1189.2L1561.9 1190.2L1563.1 1192.2L1564.0 1193.4L1564.4 1192.2L1565.7 1191.7L1567.0 1189.1L1568.3 1186.6L1569.5 1184.5L1570.8 1183.8L1570.9 1183.3L1571.2 1183.5L1572.1 1184.7L1573.4 1185.6L1574.7 1187.0L1575.9 1189.2L1577.2 1191.4L1577.2 1191.7L1578.5 1194.2L1579.8 1197.6L1581.1 1200.8L1581.4 1201.6L1582.3 1202.3L1583.6 1202.9L1584.9 1203.0L1586.2 1202.9L1586.6 1203.5L1587.5 1204.3L1588.7 1202.4L1590.0 1201.3L1591.3 1199.4L1591.8 1197.5L1592.6 1194.6L1593.9 1183.1L1595.0 1169.3L1595.1 1167.8L1596.4 1150.2L1597.1 1139.3L1597.7 1128.4L1599.0 1101.9L1599.2 1097.5L1600.3 1074.9L1601.2 1055.1L1601.5 1047.3L1602.8 1021.9L1603.3 1012.2L1604.1 995.6L1605.4 971.7L1605.4 970.3L1606.7 948.7L1607.5 940.2L1607.7 940.1L1607.9 940.8L1609.2 955.6L1610.2 972.6L1610.5 976.1L1611.8 1002.4L1612.3 1014.7L1613.1 1034.0L1613.8 1054.6L1614.3 1070.6L1615.3 1097.7L1615.6 1105.9L1616.9 1139.1L1618.2 1169.9L1619.0 1181.7L1619.5 1185.4L1620.7 1195.5L1622.0 1202.2L1622.2 1203.1L1623.3 1210.3L1624.6 1217.7L1625.3 1217.4L1625.9 1217.3L1627.1 1217.2L1627.5 1218.8L1628.4 1217.9L1629.7 1217.7L1630.5 1218.3L1631.0 1220.2L1632.3 1222.2L1633.5 1226.5L1634.7 1229.7L1634.8 1229.8L1636.1 1236.3L1637.4 1242.3L1637.9 1244.2L1638.7 1246.0L1639.9 1249.0L1641.2 1251.5L1642.5 1252.0L1643.1 1252.1L1643.8 1252.2L1645.1 1251.1L1646.3 1251.3L1647.3 1252.3L1647.6 1252.8L1648.9 1250.6L1650.2 1248.9L1651.2 1247.7L1651.5 1246.6L1651.5 1246.6L1652.7 1246.7L1654.0 1247.5L1655.3 1250.3L1656.6 1251.1L1657.7 1254.2L1657.9 1255.4L1659.1 1258.1L1660.4 1261.4L1661.7 1265.4L1661.9 1265.2L1663.0 1265.8L1664.3 1266.7L1665.5 1267.7L1666.8 1268.2L1668.1 1269.3L1669.2 1269.4L1669.4 1271.1L1670.7 1271.6L1671.9 1271.1L1673.2 1271.0L1674.5 1271.4L1675.8 1272.8L1677.1 1272.0L1678.3 1272.9L1679.6 1274.1L1679.7 1272.5L1680.9 1272.3L1682.2 1272.3L1683.5 1271.9L1684.7 1271.7L1686.0 1271.7L1687.3 1272.2L1688.6 1271.8L1689.9 1272.1L1691.1 1271.8L1692.4 1271.2L1693.7 1271.6L1695.0 1271.0L1696.3 1271.4L1697.5 1270.7L1698.8 1271.9L1700.0 1271.1L1700.1 1271.4L1701.4 1270.9L1702.7 1271.5L1703.9 1271.0L1705.2 1271.1L1706.5 1271.3L1707.8 1271.9L1709.1 1271.8L1710.3 1272.0L1711.6 1271.9L1712.9 1271.2L1714.2 1271.4L1715.5 1272.3L1716.7 1271.5L1718.0 1271.2L1719.3 1272.2L1720.6 1272.7L1721.9 1271.6L1723.1 1270.7L1724.4 1270.1L1725.7 1270.2L1727.0 1270.5L1728.3 1270.2L1729.5 1271.6L1730.8 1272.3L1732.1 1271.6L1733.4 1271.6L1734.7 1271.7L1735.9 1270.9L1737.2 1270.8L1738.5 1270.9L1739.8 1270.1L1741.1 1270.2L1742.3 1271.1L1743.6 1268.9L1744.9 1268.7L1746.2 1267.4L1747.5 1266.9L1748.7 1265.4L1750.0 1263.1L1751.3 1260.0L1752.6 1256.4L1753.9 1253.1L1755.1 1248.8L1756.4 1246.2L1757.7 1243.5L1758.8 1242.8L1759.0 1243.0L1760.3 1243.4L1761.5 1247.5L1762.8 1250.1L1764.1 1254.2L1765.4 1257.8L1766.7 1259.8L1767.9 1261.4L1769.2 1263.4L1770.5 1263.6L1771.8 1263.8L1773.1 1263.9L1774.3 1262.3L1775.6 1260.5L1776.9 1258.7L1778.2 1257.4L1779.5 1254.7L1780.7 1255.1L1781.0 1254.3L1782.0 1255.3L1783.3 1257.1L1784.6 1260.2L1785.9 1263.2L1787.1 1264.7L1788.4 1266.5L1789.7 1267.7L1791.0 1269.1L1792.3 1269.1L1793.5 1269.1L1794.8 1270.5L1796.1 1268.9L1797.4 1270.1L1798.7 1271.4L1799.9 1271.6L1801.2 1272.3L1802.5 1271.7L1803.8 1270.5L1805.1 1270.5L1806.3 1270.0L1807.6 1268.8L1808.9 1268.5L1810.2 1268.0L1811.5 1266.8L1812.7 1266.9L1814.0 1265.9L1815.0 1265.5L1815.3 1265.4L1816.6 1265.8L1817.9 1267.0L1819.1 1267.7L1820.4 1268.4L1821.7 1268.8L1823.0 1270.1L1824.3 1271.4L1825.5 1271.5L1826.8 1273.3L1828.1 1273.3L1829.4 1273.2L1830.7 1272.2L1831.9 1272.9L1833.2 1273.3L1834.5 1272.4L1835.8 1272.3L1837.1 1272.6L1838.3 1274.2L1839.6 1273.5L1840.9 1273.0L1842.2 1273.9L1843.5 1274.0L1844.7 1274.0L1846.0 1273.3L1847.3 1273.6L1848.6 1273.4L1849.9 1274.2L1851.1 1274.1L1852.4 1274.3L1853.7 1274.1L1855.0 1274.9L1856.3 1275.0L1857.5 1274.3L1858.8 1274.0L1860.1 1273.7L1861.4 1274.0L1862.7 1274.2L1863.9 1274.5L1865.2 1275.5L1866.5 1275.3L1867.8 1275.0L1869.1 1275.2L1870.3 1276.1L1871.6 1274.6L1872.9 1274.3L1874.2 1274.7L1875.5 1274.3L1876.7 1274.4L1878.0 1274.7L1879.3 1273.7L1880.6 1275.0L1881.9 1275.0L1883.1 1274.8L1884.4 1274.4L1885.7 1274.5L1887.0 1274.7L1888.3 1275.4L1889.5 1274.4L1890.8 1275.9L1892.1 1275.5L1893.4 1276.3L1894.7 1275.7L1895.9 1275.9L1897.2 1275.5L1898.5 1275.9L1899.8 1274.1L1901.1 1274.1L1902.3 1273.5L1903.6 1274.1L1904.9 1274.1L1906.2 1274.3L1907.5 1274.6L1908.7 1274.7L1910.0 1274.1L1911.3 1273.8L1912.6 1274.9L1913.9 1274.3L1915.1 1274.9L1916.4 1274.5L1917.7 1274.2L1919.0 1274.8L1920.3 1274.8L1921.5 1275.8L1922.8 1274.7L1924.1 1275.4L1925.4 1276.2L1926.7 1275.1L1927.9 1274.2L1929.2 1275.3L1930.5 1275.0L1931.8 1274.2L1933.1 1274.2L1934.3 1274.1L1935.6 1274.3L1936.9 1273.5L1938.2 1273.4L1939.5 1274.2L1940.7 1275.0L1942.0 1274.7L1943.3 1276.3L1944.6 1275.6L1945.9 1275.7L1947.1 1275.3L1948.4 1275.1L1949.7 1274.4L1951.0 1273.2L1952.3 1273.4L1953.5 1273.6L1954.8 1271.9L1956.1 1272.2L1957.4 1270.2L1958.7 1269.6L1959.9 1268.9L1961.2 1267.1L1962.5 1265.0L1963.8 1263.4L1965.1 1261.3L1966.3 1261.2L1967.5 1260.5L1967.6 1260.8L1968.9 1261.4L1970.2 1262.1L1971.5 1263.6L1972.7 1264.9L1974.0 1266.8L1975.3 1268.6L1976.6 1271.0L1977.9 1270.8L1979.1 1272.1L1980.4 1272.0L1981.7 1272.2L1983.0 1272.1L1984.3 1271.7L1985.5 1270.8L1986.8 1270.2L1988.1 1270.5L1989.4 1269.5L1990.0 1269.2L1990.7 1269.4L1991.9 1270.8L1993.2 1270.6L1994.5 1270.7L1995.8 1271.7L1997.1 1270.6L1998.3 1270.3L1999.6 1270.1L2000.9 1269.9L2002.2 1268.4L2003.5 1269.1L2004.7 1268.0L2006.0 1267.7L2007.3 1266.6L2008.6 1265.7L2009.9 1263.6L2011.1 1264.2L2012.4 1264.2L2012.5 1264.0L2013.7 1264.1L2015.0 1263.8L2016.3 1264.8L2017.5 1264.9L2018.8 1266.3L2020.1 1267.8L2021.4 1268.7L2022.7 1270.2L2023.9 1271.3L2025.2 1272.4L2026.5 1272.7L2027.8 1272.9L2029.1 1273.6L2030.3 1273.7L2031.6 1274.6L2032.9 1275.1L2034.2 1274.2L2035.5 1274.7L2036.7 1274.8L2038.0 1275.5L2039.3 1275.0L2040.6 1276.7L2041.9 1276.3L2043.1 1276.1L2044.4 1276.0L2045.7 1276.2L2047.0 1275.2L2048.3 1276.2L2049.5 1276.9L2050.8 1276.2L2052.1 1276.5L2053.4 1277.1L2054.7 1276.3L2055.9 1277.5L2057.2 1276.4L2058.5 1276.6L2059.8 1276.6L2061.1 1276.7L2062.3 1277.8L2063.6 1277.6L2064.9 1277.7L2066.2 1277.2L2067.5 1276.3L2068.7 1277.1L2070.0 1277.8L2071.3 1277.3L2072.6 1276.8L2073.9 1277.6L2075.1 1277.1L2076.4 1277.0L2077.7 1277.6L2079.0 1276.0L2080.3 1276.8L2081.5 1276.8L2082.8 1277.3L2084.1 1276.1L2085.4 1276.5L2086.7 1277.1L2087.9 1275.6L2089.2 1275.5L2090.5 1275.5L2091.8 1275.8L2093.1 1275.2L2094.3 1276.1L2095.6 1277.6L2096.9 1276.4L2098.2 1276.4L2099.5 1274.5L2100.0 1275.4L2100.7 1275.6L2102.0 1275.9L2103.3 1276.2L2104.6 1276.8L2105.9 1276.3L2107.1 1276.4L2108.4 1276.4L2109.7 1276.7L2111.0 1275.6L2112.3 1277.8L2113.5 1276.0L2114.8 1276.5L2116.1 1277.6L2117.4 1278.2L2118.7 1277.4L2119.9 1277.8L2121.2 1276.7L2122.5 1276.1L2123.8 1276.7L2125.1 1276.4L2126.3 1277.4L2127.6 1277.2L2128.9 1277.3L2130.2 1276.2L2131.5 1276.2L2132.7 1275.4L2134.0 1276.6L2135.3 1276.0L2136.6 1277.1L2137.9 1277.9L2139.1 1276.1L2140.4 1277.4L2141.7 1277.0L2143.0 1277.0L2144.3 1275.6L2145.5 1275.9L2146.8 1276.5L2148.1 1275.8L2149.4 1276.6L2150.7 1276.0L2151.9 1276.0L2153.2 1274.8L2154.5 1274.6L2155.8 1272.8L2157.1 1272.6L2158.3 1271.2L2159.6 1269.9L2160.9 1269.1L2162.2 1268.1L2162.5 1269.3L2163.5 1269.7L2164.7 1269.2L2166.0 1270.3L2167.3 1271.6L2168.6 1272.6L2169.9 1273.0L2171.1 1274.7L2172.4 1274.2L2173.7 1275.8L2175.0 1275.5L2176.3 1275.8L2177.5 1275.2L2178.8 1275.1L2180.1 1275.7L2181.4 1276.4L2182.7 1276.0L2183.9 1275.8L2185.2 1276.5L2186.5 1276.6L2187.8 1275.7L2189.1 1276.3L2190.3 1276.3L2191.6 1276.1L2192.9 1276.0L2194.2 1276.6L2195.5 1276.1L2196.7 1275.9L2198.0 1275.3L2199.3 1276.3L2200.6 1276.0L2201.9 1275.9L2203.1 1274.4L2204.4 1275.0L2205.7 1274.4L2207.0 1274.1L2208.3 1273.7L2209.5 1274.9L2210.8 1274.9L2212.1 1275.3L2213.4 1274.7L2214.7 1274.3L2215.9 1274.7L2217.2 1274.5L2218.5 1274.3L2219.8 1273.6L2220.0 1274.2L2221.1 1273.8L2222.3 1273.2L2223.6 1274.3L2224.9 1274.9L2226.2 1275.4L2227.5 1274.4L2228.7 1275.3L2230.0 1274.5L2231.3 1274.6L2232.6 1275.4L2233.9 1275.0L2235.1 1274.6L2236.4 1274.9L2237.7 1275.4L2239.0 1275.0L2240.3 1274.6L2241.5 1275.5L2242.8 1274.8L2244.1 1275.5L2245.4 1276.3L2246.7 1276.0L2247.9 1277.2L2249.2 1275.8L2250.5 1275.9L2251.8 1276.5L2253.1 1275.8L2254.3 1276.3L2255.6 1276.8L2256.9 1276.8L2258.2 1276.7L2259.5 1276.3L2260.7 1276.2L2262.0 1275.9L2263.3 1275.3L2264.6 1275.6L2265.9 1274.5L2267.1 1274.8L2268.4 1274.7L2269.7 1275.6L2271.0 1275.5L2272.3 1275.6L2273.5 1275.0L2274.8 1274.2L2276.1 1274.4L2277.4 1273.7L2278.7 1274.8L2279.9 1274.3L2281.2 1275.3L2282.5 1274.4L2283.8 1274.7L2285.1 1274.1L2286.3 1273.5L2287.6 1273.0L2288.9 1272.4L2290.2 1272.7L2291.5 1271.9L2292.7 1273.4L2294.0 1272.4L2295.3 1272.6L2296.6 1272.9L2297.9 1272.8L2299.1 1273.6L2300.0 1272.8L2300.4 1272.8L2301.7 1272.7L2303.0 1273.8L2304.3 1273.4L2305.5 1272.5L2306.8 1273.1L2308.1 1273.2L2309.4 1273.7L2310.7 1274.0L2311.9 1273.8L2313.2 1274.4L2314.5 1274.8L2315.8 1273.3L2317.1 1274.1L2318.3 1274.8L2319.6 1275.3L2320.9 1275.4L2322.2 1275.7L2323.5 1275.8L2324.7 1276.0L2326.0 1275.4L2327.3 1275.8L2328.6 1276.1L2329.9 1276.4L2331.1 1276.7L2332.4 1275.5L2333.7 1276.2L2335.0 1276.2L2336.3 1276.3L2337.5 1276.4L2338.8 1277.1L2340.1 1276.7L2341.4 1276.8L2342.7 1276.9L2343.9 1278.4L2345.2 1276.4L2346.5 1277.0L2347.8 1276.1L2349.1 1276.0L2350.3 1275.5L2351.6 1276.2L2352.9 1276.6L2354.2 1277.3L2355.5 1276.7L2356.7 1276.6L2358.0 1275.3L2359.3 1275.7L2360.6 1273.6L2361.9 1274.4L2363.1 1271.8L2364.4 1270.5L2365.7 1269.2L2367.0 1268.1L2368.3 1267.6L2369.5 1266.9L2370.0 1265.9L2370.8 1266.0L2372.1 1266.5L2373.4 1268.0L2374.7 1270.0L2375.9 1271.9L2377.2 1272.9L2378.5 1274.3L2379.8 1275.9L2381.1 1276.8L2382.3 1276.2L2383.6 1276.9L2384.9 1276.4L2386.2 1276.8L2387.5 1277.0L2388.7 1276.4L2390.0 1275.6L2391.3 1276.0L2392.6 1275.9L2393.9 1275.7L2395.1 1276.3L2396.4 1277.4L2397.7 1277.1L2399.0 1278.1L2400.3 1278.1L2401.5 1276.9L2402.8 1278.4L2404.1 1278.1L2405.4 1278.5L2406.7 1278.8L2407.9 1279.1L2409.2 1278.5L2410.5 1278.7L2411.8 1278.7L2413.1 1278.2L2414.3 1277.8L2415.6 1278.5L2416.9 1277.1L2418.2 1277.3L2419.5 1277.2L2420.7 1278.1L2422.0 1277.7L2423.3 1278.0L2424.6 1277.3L2425.9 1278.3L2427.1 1278.5L2428.4 1278.4L2429.7 1278.8L2431.0 1278.4L2432.3 1279.1L2433.5 1279.3L2434.8 1278.5L2436.1 1279.4L2437.4 1278.5L2438.7 1277.6L2439.9 1278.6"/>
<path class="c" d="M202.5 1703.7L203.8 1703.4L205.1 1703.3L206.3 1703.2L207.6 1703.9L208.9 1704.4L210.2 1704.2L211.5 1704.4L212.7 1704.5L214.0 1704.2L215.3 1705.0L216.6 1704.1L217.9 1704.1L219.1 1704.4L220.4 1703.8L221.7 1703.8L223.0 1703.7L224.3 1704.2L225.5 1703.9L226.8 1704.4L228.1 1704.8L229.4 1704.5L230.7 1704.4L231.9 1704.5L233.2 1704.5L234.5 1704.7L235.8 1705.0L237.1 1704.6L238.3 1705.1L239.6 1704.8L240.9 1705.2L242.2 1704.9L243.5 1704.5L244.7 1704.6L246.0 1704.2L247.3 1704.6L248.6 1704.2L249.9 1704.4L251.1 1704.0L252.4 1705.0L253.7 1704.6L255.0 1705.0L256.3 1705.0L257.5 1704.7L258.8 1704.9L260.1 1704.7L261.4 1705.2L262.7 1705.6L263.9 1705.3L265.2 1705.4L266.5 1704.8L267.8 1705.1L269.1 1705.1L270.3 1705.2L271.6 1704.4L272.9 1704.8L274.2 1704.6L275.5 1704.3L276.7 1704.7L278.0 1705.5L279.3 1705.2L280.6 1705.2L281.9 1705.5L283.1 1705.4L284.4 1705.3L285.7 1705.4L287.0 1705.2L288.3 1705.4L289.5 1705.1L290.8 1705.2L292.1 1705.3L293.4 1705.0L294.7 1704.6L295.9 1705.0L297.2 1704.6L298.5 1704.9L299.8 1705.0L301.1 1704.8L302.3 1704.8L303.6 1704.6L304.9 1705.1L306.2 1705.2L307.5 1704.7L308.7 1704.6L310.0 1704.9L311.3 1704.8L312.6 1704.8L313.9 1704.9L315.1 1705.3L316.4 1705.0L317.7 1704.9L319.0 1704.7L320.3 1705.1L321.5 1704.9L322.8 1705.1L324.1 1704.8L325.4 1705.1L326.7 1705.0L327.9 1704.7L329.2 1704.7L330.5 1704.1L331.8 1702.9L333.1 1701.8L334.3 1699.8L335.6 1697.3L336.9 1694.1L338.2 1692.0L339.2 1690.9L339.5 1691.0L340.7 1692.2L342.0 1695.4L343.3 1697.7L344.6 1700.2L345.9 1702.7L347.1 1703.4L348.4 1703.9L349.7 1704.7L351.0 1704.6L352.3 1705.0L353.5 1704.8L354.8 1705.0L356.1 1705.3L357.4 1705.0L358.7 1705.4L359.9 1704.9L361.2 1704.8L362.5 1704.6L363.8 1705.0L365.1 1704.7L366.3 1704.7L367.6 1705.2L368.9 1705.5L370.2 1705.1L371.5 1705.0L372.7 1705.7L374.0 1705.8L375.3 1705.5L376.6 1705.8L377.9 1705.2L379.1 1705.3L380.4 1705.4L381.7 1705.7L383.0 1705.5L384.3 1705.7L385.5 1705.1L386.8 1705.5L388.1 1704.7L389.4 1705.0L390.7 1705.2L391.9 1705.2L393.2 1704.6L394.5 1705.1L395.8 1705.1L397.1 1705.1L398.3 1705.4L399.6 1705.3L400.9 1705.7L402.2 1705.2L403.5 1705.3L404.7 1705.4L406.0 1705.1L407.3 1705.8L408.6 1705.7L409.9 1705.0L411.1 1705.3L412.4 1705.2L413.7 1705.4L415.0 1705.3L416.3 1705.8L417.5 1705.5L418.8 1705.9L420.1 1705.7L421.4 1706.3L422.7 1705.6L423.9 1705.8L425.2 1705.5L426.5 1705.9L427.8 1705.9L429.1 1705.5L430.3 1705.3L431.6 1705.1L432.9 1705.4L434.2 1705.5L435.5 1705.7L436.7 1705.7L438.0 1705.4L439.3 1705.5L440.6 1705.1L441.9 1704.9L443.1 1705.4L444.4 1705.3L445.7 1705.3L447.0 1705.5L448.3 1705.8L449.5 1705.7L450.8 1705.1L452.1 1705.5L453.4 1705.4L454.7 1705.8L455.9 1706.0L457.2 1705.6L458.5 1706.1L459.8 1705.5L461.1 1705.1L462.3 1704.9L463.6 1705.5L464.9 1705.4L466.2 1705.1L467.5 1705.5L468.7 1705.7L470.0 1705.2L471.3 1705.6L472.6 1705.8L473.9 1705.7L475.1 1705.5L476.4 1705.9L477.7 1705.7L479.0 1706.0L480.3 1705.4L481.5 1705.2L482.8 1705.7L484.1 1705.9L485.4 1705.7L486.7 1705.7L487.9 1705.5L489.2 1705.7L490.5 1705.1L491.8 1705.1L493.1 1705.6L494.3 1705.3L495.6 1705.8L496.9 1705.7L498.2 1705.4L499.5 1705.5L500.7 1705.7L502.0 1705.6L503.3 1705.5L504.6 1705.3L505.9 1705.3L507.1 1705.1L508.4 1704.9L509.7 1704.8L511.0 1704.9L512.3 1704.2L513.5 1703.0L514.8 1702.5L516.1 1700.5L517.4 1699.5L518.7 1698.0L519.9 1697.5L521.2 1696.8L521.2 1697.0L522.5 1697.2L523.8 1698.4L525.1 1699.2L526.3 1700.5L527.6 1701.8L528.9 1703.3L530.2 1704.1L531.5 1704.8L532.7 1704.8L534.0 1705.6L535.3 1705.2L536.6 1705.7L537.9 1705.4L539.1 1705.3L540.4 1705.1L541.7 1705.1L543.0 1705.2L544.3 1705.3L545.5 1705.3L546.8 1705.4L548.1 1705.3L549.4 1705.3L550.7 1705.2L551.9 1705.5L553.2 1705.4L554.5 1705.1L555.8 1705.6L557.1 1705.7L558.3 1705.3L559.6 1705.6L560.9 1705.2L562.2 1705.2L563.5 1705.0L564.7 1705.2L566.0 1704.8L567.3 1704.6L568.6 1704.3L569.9 1703.7L571.1 1703.6L572.4 1703.1L573.7 1703.0L575.0 1702.0L576.0 1702.6L576.3 1702.5L577.5 1701.8L578.8 1702.4L580.1 1702.8L581.4 1702.9L582.7 1703.2L583.9 1703.6L585.2 1703.8L586.5 1704.7L587.8 1704.9L589.1 1704.5L590.3 1704.7L591.6 1704.3L592.9 1704.6L594.2 1703.7L595.5 1703.8L596.7 1703.4L598.0 1703.2L599.3 1703.1L600.6 1702.2L601.9 1701.2L603.1 1699.9L604.4 1697.4L605.7 1693.5L607.0 1687.0L608.3 1677.5L609.5 1665.8L610.8 1651.3L612.1 1635.9L613.4 1621.5L614.7 1612.2L615.5 1610.3L615.9 1610.2L617.2 1617.5L618.5 1630.8L619.8 1645.9L621.1 1660.9L622.3 1674.0L623.6 1684.0L624.9 1691.2L626.2 1696.1L627.5 1699.0L628.7 1701.0L630.0 1702.0L631.3 1702.3L632.6 1702.6L633.9 1703.6L635.1 1703.7L636.4 1703.5L637.7 1704.0L639.0 1703.7L640.3 1703.3L641.5 1702.5L642.8 1701.4L644.1 1700.4L645.4 1699.8L646.7 1699.4L647.9 1699.1L648.0 1698.7L649.2 1699.1L650.5 1700.5L651.8 1701.7L653.1 1702.0L654.3 1703.2L655.6 1703.9L656.9 1704.2L658.2 1704.5L659.5 1704.7L660.7 1704.9L662.0 1704.3L663.3 1704.5L664.6 1704.7L665.9 1704.7L667.1 1704.6L668.4 1704.6L669.7 1704.5L671.0 1704.9L672.3 1704.2L673.5 1704.1L674.8 1704.1L676.1 1703.4L677.4 1702.0L678.7 1701.0L679.9 1699.2L681.2 1695.7L682.5 1690.3L683.8 1683.2L685.1 1674.0L686.3 1663.9L687.6 1656.1L688.8 1653.7L688.9 1653.8L690.2 1657.8L691.5 1665.1L692.7 1675.1L694.0 1684.6L695.3 1691.0L696.6 1696.0L697.9 1699.3L699.1 1701.0L700.4 1701.8L701.7 1702.4L703.0 1702.3L704.3 1702.8L705.5 1702.1L706.8 1702.0L708.1 1701.7L709.4 1701.0L710.7 1699.8L711.9 1697.9L713.2 1694.0L714.5 1687.9L715.8 1678.2L717.1 1665.2L718.3 1648.4L719.6 1629.4L720.9 1611.0L722.2 1597.6L723.2 1593.3L723.5 1593.3L724.7 1598.6L726.0 1611.1L727.3 1625.1L728.6 1637.3L729.9 1644.4L731.1 1649.8L732.4 1654.4L732.5 1655.4L733.7 1662.3L735.0 1671.8L736.3 1681.3L737.5 1689.3L738.8 1694.3L740.1 1698.2L741.4 1700.7L742.7 1701.6L743.9 1702.6L745.2 1702.9L746.5 1702.7L747.8 1703.2L749.1 1703.5L750.3 1704.2L751.6 1704.4L752.9 1704.6L754.2 1704.5L755.5 1705.1L756.7 1705.1L758.0 1705.2L759.3 1705.5L760.6 1705.2L761.9 1705.1L763.1 1705.8L764.4 1705.3L765.7 1705.8L767.0 1705.4L768.3 1705.7L769.5 1705.6L770.8 1705.8L772.1 1706.2L773.4 1705.7L774.7 1705.0L775.9 1705.7L777.2 1705.1L778.5 1705.1L779.8 1705.4L781.1 1704.9L782.3 1705.8L783.6 1705.8L784.9 1705.5L786.2 1705.4L787.5 1705.3L788.7 1704.8L790.0 1704.6L791.3 1704.0L792.6 1704.1L793.9 1703.5L795.1 1702.9L796.4 1700.8L797.7 1699.6L799.0 1698.2L800.0 1697.6L800.3 1697.4L801.5 1698.6L802.8 1700.2L804.1 1701.5L805.4 1702.5L806.7 1703.4L807.9 1704.2L809.2 1703.7L810.5 1703.8L811.8 1703.7L813.1 1702.6L814.3 1701.7L815.6 1699.6L816.9 1696.0L818.2 1691.2L819.5 1685.1L820.7 1679.5L822.0 1674.1L823.3 1671.2L823.8 1671.5L824.6 1672.3L825.9 1676.6L827.1 1681.7L828.4 1687.8L829.7 1693.0L831.0 1697.0L832.3 1699.4L833.5 1702.4L834.8 1703.3L836.1 1703.8L837.4 1704.1L838.7 1704.5L839.9 1703.7L841.2 1703.2L842.5 1702.1L843.8 1701.4L845.1 1699.6L846.3 1698.5L847.5 1698.9L847.6 1698.9L848.9 1699.3L850.2 1700.8L851.5 1701.9L852.7 1703.4L854.0 1703.9L855.3 1704.9L856.6 1705.4L857.9 1705.4L859.1 1705.9L860.4 1706.3L861.7 1706.1L863.0 1705.5L864.3 1705.7L865.5 1705.6L866.8 1705.8L868.1 1705.2L869.4 1705.6L870.7 1705.0L871.9 1704.9L873.2 1705.0L874.5 1705.1L875.8 1704.7L877.1 1704.5L878.3 1703.9L879.6 1703.0L880.9 1702.5L882.2 1702.0L883.5 1701.6L884.0 1701.4L884.7 1701.2L886.0 1701.6L887.3 1701.2L888.6 1702.6L889.9 1702.6L891.1 1703.4L892.4 1704.4L893.7 1704.7L895.0 1705.0L896.3 1705.2L897.5 1705.1L898.8 1705.4L900.1 1705.6L901.4 1705.9L902.7 1705.8L903.9 1705.6L905.2 1705.3L906.5 1705.2L907.8 1703.9L909.1 1703.2L910.3 1701.9L911.6 1699.7L912.9 1697.4L914.2 1695.0L915.5 1693.6L916.0 1693.4L916.7 1693.3L918.0 1694.9L919.3 1697.4L920.6 1700.3L921.9 1701.5L923.1 1703.1L924.4 1704.4L925.7 1704.7L927.0 1705.2L928.3 1705.5L929.5 1705.1L930.8 1704.8L932.1 1703.7L933.4 1702.9L934.7 1702.2L935.9 1701.3L937.2 1699.6L938.5 1698.0L939.8 1696.7L941.1 1696.0L942.3 1694.9L942.5 1695.1L943.6 1695.4L944.9 1696.7L946.2 1697.8L947.5 1699.9L948.7 1701.7L950.0 1702.6L951.3 1703.4L952.6 1703.6L953.9 1704.6L955.1 1704.8L956.4 1705.2L957.7 1705.2L959.0 1705.0L960.3 1705.2L961.5 1704.9L962.8 1705.8L964.1 1705.9L965.4 1705.8L966.7 1705.7L967.9 1706.1L969.2 1706.0L970.5 1705.8L971.8 1706.2L973.1 1705.3L974.3 1705.6L975.6 1705.1L976.9 1705.5L978.2 1704.8L979.5 1705.0L980.7 1705.4L982.0 1705.1L983.3 1705.3L984.6 1704.9L985.9 1705.1L987.1 1704.5L988.4 1704.2L989.7 1703.4L991.0 1702.8L992.3 1700.5L993.5 1698.6L994.8 1695.5L996.1 1691.7L997.4 1687.8L998.7 1682.8L999.9 1678.5L1001.2 1675.4L1002.5 1674.7L1003.8 1675.4L1005.1 1678.8L1006.3 1682.8L1007.6 1687.1L1008.9 1691.1L1010.2 1695.1L1011.5 1698.5L1012.7 1700.8L1014.0 1702.4L1015.3 1703.4L1016.6 1704.2L1017.9 1704.0L1019.1 1705.1L1020.4 1705.2L1021.7 1705.0L1023.0 1705.2L1024.3 1705.0L1025.5 1705.8L1026.8 1705.3L1028.1 1705.4L1029.4 1706.1L1030.7 1705.5L1031.9 1705.8L1033.2 1705.4L1034.5 1705.3L1035.8 1705.4L1037.1 1705.3L1038.3 1705.8L1039.6 1705.9L1040.9 1705.8L1042.2 1706.2L1043.5 1705.7L1044.7 1705.7L1046.0 1705.8L1047.3 1705.6L1048.6 1706.2L1049.9 1705.6L1051.1 1705.5L1052.4 1706.0L1053.7 1705.4L1055.0 1705.5L1056.3 1705.2L1057.5 1704.8L1058.8 1704.7L1060.1 1703.8L1061.4 1704.1L1062.7 1703.6L1063.9 1704.0L1065.2 1703.9L1066.5 1703.4L1067.0 1703.2L1067.8 1703.2L1069.1 1703.3L1070.3 1702.9L1071.6 1703.3L1072.9 1703.8L1074.2 1704.0L1075.5 1704.7L1076.7 1705.3L1078.0 1705.3L1079.3 1705.7L1080.6 1706.0L1081.9 1705.7L1083.1 1706.0L1084.4 1705.7L1085.7 1705.7L1087.0 1705.8L1088.3 1705.7L1089.5 1705.9L1090.8 1706.2L1092.1 1706.3L1093.4 1706.3L1094.7 1706.0L1095.9 1706.6L1097.2 1706.5L1098.5 1706.3L1099.8 1706.2L1101.1 1705.9L1102.3 1705.7L1103.6 1705.9L1104.9 1706.1L1106.2 1705.7L1107.5 1705.2L1108.7 1705.2L1110.0 1705.3L1111.3 1705.8L1112.6 1706.0L1113.9 1705.8L1115.1 1705.7L1116.4 1705.8L1117.7 1705.7L1119.0 1705.5L1120.3 1705.7L1121.5 1705.3L1122.8 1705.5L1124.1 1705.2L1125.4 1705.1L1126.7 1704.7L1127.9 1704.1L1129.2 1703.4L1130.5 1702.0L1131.8 1700.9L1133.1 1699.1L1134.3 1698.4L1135.6 1697.7L1136.0 1697.8L1136.9 1698.3L1138.2 1699.6L1139.5 1700.4L1140.7 1701.8L1142.0 1702.4L1143.3 1703.8L1144.6 1704.2L1145.9 1705.0L1147.1 1705.8L1148.4 1705.8L1149.7 1706.3L1151.0 1706.0L1152.3 1706.1L1153.5 1705.7L1154.8 1705.8L1156.1 1705.8L1157.4 1705.2L1158.7 1705.7L1159.9 1705.7L1161.2 1706.2L1162.5 1705.1L1163.8 1705.9L1165.1 1706.0L1166.3 1706.1L1167.6 1705.7L1168.9 1705.2L1170.2 1704.9L1171.5 1703.9L1172.7 1703.4L1174.0 1702.6L1175.3 1702.1L1176.6 1702.4L1177.5 1701.7L1177.9 1701.6L1179.1 1702.3L1180.4 1702.7L1181.7 1703.3L1183.0 1703.6L1184.3 1704.4L1185.5 1704.9L1186.8 1705.2L1188.1 1705.3L1189.4 1705.9L1190.7 1706.1L1191.9 1706.0L1193.2 1706.6L1194.5 1706.5L1195.8 1706.2L1197.1 1705.9L1198.3 1706.2L1199.6 1705.9L1200.9 1706.0L1202.2 1705.9L1203.5 1705.9L1204.7 1706.0L1206.0 1705.0L1207.3 1706.0L1208.6 1705.8L1209.9 1705.6L1211.1 1705.6L1212.4 1705.9L1213.7 1705.8L1215.0 1706.2L1216.3 1705.6L1217.5 1705.7L1218.8 1705.6L1220.1 1706.0L1221.4 1706.0L1222.7 1705.4L1223.9 1705.9L1225.2 1705.9L1226.5 1705.6L1227.8 1706.1L1229.1 1705.7L1230.3 1705.2L1231.6 1705.4L1232.9 1705.2L1234.2 1704.6L1235.5 1703.7L1236.7 1702.7L1238.0 1702.5L1239.3 1701.2L1240.6 1700.8L1241.9 1700.0L1243.1 1699.4L1243.8 1699.6L1244.4 1699.9L1245.7 1700.1L1247.0 1700.5L1248.3 1701.1L1249.5 1702.6L1250.8 1703.2L1252.1 1704.0L1253.4 1704.8L1254.7 1705.4L1255.9 1705.4L1257.2 1705.4L1258.5 1705.8L1259.8 1705.3L1261.1 1705.4L1262.3 1705.6L1263.6 1705.2L1264.9 1705.7L1266.2 1705.9L1267.5 1705.7L1268.7 1705.4L1270.0 1706.0L1271.3 1705.5L1272.6 1705.6L1273.9 1705.9L1275.1 1705.0L1276.4 1705.3L1277.7 1705.2L1279.0 1705.6L1280.3 1705.2L1281.5 1705.8L1282.8 1705.3L1284.1 1705.0L1285.4 1704.9L1286.7 1704.2L1287.9 1703.4L1289.2 1702.9L1290.5 1702.2L1291.8 1701.2L1293.1 1701.0L1294.3 1700.8L1295.0 1700.6L1295.6 1700.9L1296.9 1701.7L1298.2 1702.4L1299.5 1702.7L1300.7 1703.2L1302.0 1703.5L1303.3 1704.4L1304.6 1704.8L1305.9 1705.1L1307.1 1704.8L1308.4 1705.2L1309.7 1705.2L1311.0 1705.5L1312.3 1705.3L1313.5 1705.2L1314.8 1705.1L1316.1 1705.6L1317.4 1705.3L1318.7 1705.6L1319.9 1705.6L1321.2 1705.6L1322.5 1705.6L1323.8 1705.2L1325.1 1705.1L1326.3 1704.9L1327.6 1703.7L1328.9 1703.7L1330.2 1702.2L1331.5 1700.6L1332.7 1698.1L1334.0 1695.1L1335.3 1691.8L1336.6 1690.1L1337.5 1689.5L1337.9 1689.7L1339.1 1690.7L1340.4 1693.0L1341.7 1695.8L1343.0 1697.6L1344.3 1698.4L1345.5 1698.2L1346.8 1696.5L1348.1 1693.4L1349.4 1690.2L1350.7 1686.5L1351.9 1683.9L1353.0 1683.5L1353.2 1683.0L1354.5 1685.2L1355.8 1688.3L1357.1 1691.9L1358.3 1695.8L1359.6 1698.8L1360.9 1701.2L1362.2 1702.3L1363.5 1703.1L1364.7 1703.9L1366.0 1704.4L1367.3 1704.2L1368.6 1703.8L1369.9 1703.0L1371.1 1702.1L1372.4 1702.1L1373.7 1700.6L1375.0 1700.2L1376.0 1699.8L1376.3 1700.9L1377.5 1700.7L1378.8 1701.3L1380.1 1702.4L1381.4 1702.9L1382.7 1703.3L1383.9 1704.2L1385.2 1704.3L1386.5 1704.9L1387.8 1705.2L1389.1 1704.2L1390.3 1704.5L1391.6 1703.3L1392.9 1701.9L1394.2 1700.6L1395.5 1697.8L1396.7 1694.5L1398.0 1691.2L1399.3 1687.0L1400.6 1683.8L1401.9 1682.5L1402.0 1682.4L1403.1 1682.6L1404.4 1684.8L1405.7 1686.6L1407.0 1688.6L1408.3 1689.0L1409.5 1688.3L1410.8 1686.2L1412.1 1684.4L1413.4 1683.1L1414.0 1682.6L1414.7 1683.1L1415.9 1685.2L1417.2 1688.6L1418.5 1691.7L1419.8 1695.3L1421.1 1697.6L1422.3 1698.8L1423.6 1699.4L1424.9 1698.9L1426.2 1698.2L1427.5 1696.7L1428.7 1695.6L1430.0 1694.6L1430.0 1695.1L1431.3 1695.8L1432.6 1697.0L1433.9 1698.5L1435.1 1700.1L1436.4 1701.4L1437.7 1702.7L1439.0 1703.7L1440.3 1703.8L1441.5 1704.3L1442.8 1704.3L1444.1 1704.3L1445.4 1704.9L1446.7 1704.6L1447.9 1704.8L1449.2 1704.4L1450.5 1704.6L1451.8 1704.4L1453.1 1704.4L1454.3 1704.9L1455.6 1705.0L1456.9 1704.7L1458.2 1704.4L1459.5 1704.5L1460.7 1703.8L1462.0 1703.3L1463.3 1703.1L1464.6 1702.2L1465.9 1701.2L1467.1 1700.5L1468.4 1699.9L1469.7 1698.3L1471.0 1697.5L1472.3 1696.6L1473.5 1696.0L1474.8 1695.9L1475.0 1695.6L1476.1 1695.6L1477.4 1695.5L1478.7 1696.5L1479.9 1697.5L1481.2 1698.9L1482.5 1699.9L1483.8 1700.8L1485.1 1702.0L1486.3 1702.7L1487.6 1702.4L1488.9 1702.9L1490.2 1703.1L1491.5 1703.1L1492.7 1702.7L1494.0 1702.3L1495.3 1702.1L1496.6 1701.0L1497.9 1700.4L1499.1 1699.8L1500.4 1699.0L1501.7 1698.6L1503.0 1697.7L1504.3 1697.5L1505.0 1697.1L1505.5 1697.2L1506.8 1696.7L1508.1 1696.7L1509.4 1696.4L1510.7 1696.0L1511.9 1694.4L1513.2 1692.8L1514.5 1690.5L1515.8 1688.1L1517.1 1685.5L1518.3 1683.7L1519.6 1682.6L1520.0 1682.8L1520.9 1683.4L1522.2 1685.0L1523.5 1687.5L1524.7 1690.4L1526.0 1693.1L1527.3 1695.2L1528.6 1696.9L1529.9 1698.9L1531.1 1699.6L1532.4 1700.5L1533.7 1700.8L1535.0 1701.1L1536.3 1701.2L1537.5 1700.9L1538.8 1700.5L1540.1 1700.5L1541.4 1700.9L1542.7 1700.4L1543.9 1699.5L1545.2 1698.9L1546.5 1698.2L1547.8 1696.8L1549.1 1695.1L1550.3 1693.2L1551.6 1690.9L1552.9 1688.3L1554.2 1685.8L1555.5 1682.9L1556.7 1680.6L1557.5 1679.4L1558.0 1679.2L1559.3 1677.8L1560.6 1676.4L1561.9 1674.2L1563.1 1669.5L1564.4 1661.7L1565.7 1649.2L1567.0 1631.0L1568.3 1606.2L1569.5 1573.6L1570.8 1534.2L1572.1 1488.8L1573.4 1441.6L1574.7 1396.7L1575.9 1360.9L1577.2 1338.9L1578.0 1334.7L1578.5 1336.6L1579.8 1354.8L1581.1 1388.1L1582.3 1432.0L1583.6 1479.3L1584.9 1524.7L1586.2 1566.0L1587.5 1600.4L1588.7 1627.3L1590.0 1647.4L1591.3 1662.3L1592.0 1667.7L1592.6 1671.0L1593.9 1676.7L1595.1 1679.1L1596.4 1680.5L1597.7 1680.3L1599.0 1680.5L1600.0 1681.0L1600.3 1681.5L1601.5 1683.3L1602.8 1686.1L1604.1 1689.5L1605.4 1692.6L1606.7 1694.7L1607.9 1696.8L1609.2 1697.7L1610.5 1699.3L1611.8 1699.5L1613.1 1700.2L1614.3 1700.6L1615.6 1700.9L1616.9 1701.0L1618.2 1700.7L1619.5 1700.9L1620.7 1700.6L1622.0 1700.2L1623.3 1698.9L1624.6 1698.0L1625.9 1695.4L1627.1 1692.8L1628.4 1690.0L1629.7 1688.8L1630.8 1688.0L1631.0 1688.1L1632.3 1689.1L1633.5 1690.8L1634.8 1693.2L1636.1 1696.1L1637.4 1697.6L1638.7 1699.1L1639.9 1700.4L1641.2 1699.9L1642.5 1699.5L1643.8 1698.1L1645.1 1696.0L1646.3 1694.1L1647.6 1691.8L1648.9 1689.5L1650.2 1687.4L1651.2 1687.1L1651.5 1687.8L1652.7 1689.1L1654.0 1691.3L1655.3 1693.4L1656.6 1695.5L1657.9 1697.1L1659.1 1698.4L1660.4 1698.6L1661.7 1698.4L1663.0 1697.6L1664.3 1695.7L1665.5 1694.5L1666.8 1693.5L1668.0 1692.7L1668.1 1693.2L1669.4 1693.3L1670.7 1694.9L1671.9 1697.0L1673.2 1698.9L1674.5 1699.9L1675.8 1701.2L1677.1 1702.6L1678.3 1702.6L1679.6 1703.0L1680.9 1702.4L1682.2 1703.2L1683.5 1703.0L1684.7 1702.5L1686.0 1701.6L1687.3 1701.1L1688.6 1699.9L1689.9 1698.4L1691.1 1696.9L1692.4 1695.9L1693.7 1694.9L1695.0 1694.4L1695.0 1694.6L1696.3 1694.5L1697.5 1695.8L1698.8 1697.5L1700.1 1698.5L1701.4 1700.0L1702.7 1701.3L1703.9 1702.0L1705.2 1702.6L1706.5 1703.0L1707.8 1703.2L1709.1 1703.4L1710.3 1703.5L1711.6 1703.4L1712.9 1703.9L1714.2 1704.2L1715.5 1703.9L1716.7 1704.6L1718.0 1703.9L1719.3 1703.7L1720.6 1703.7L1721.9 1703.3L1723.1 1702.8L1724.4 1701.9L1725.7 1700.8L1727.0 1698.4L1728.3 1696.0L1729.5 1692.3L1730.8 1688.6L1732.1 1685.4L1733.4 1683.6L1734.5 1683.1L1734.7 1683.4L1735.9 1684.6L1737.2 1687.4L1738.5 1690.0L1739.8 1693.6L1741.1 1696.4L1742.3 1699.1L1743.6 1700.6L1744.9 1701.8L1746.2 1702.6L1747.5 1702.5L1748.7 1702.0L1750.0 1701.4L1751.3 1699.8L1752.6 1697.9L1753.9 1696.7L1755.1 1695.0L1756.4 1693.9L1757.0 1694.1L1757.7 1694.5L1759.0 1695.6L1760.3 1696.9L1761.5 1698.3L1762.8 1699.7L1764.1 1700.7L1765.4 1701.8L1766.7 1702.1L1767.9 1702.7L1769.2 1702.2L1770.5 1702.2L1771.8 1701.1L1773.1 1699.8L1774.3 1698.0L1775.6 1696.2L1776.9 1694.1L1778.2 1691.4L1779.5 1690.0L1780.7 1689.3L1781.2 1689.3L1782.0 1688.9L1783.3 1690.7L1784.6 1691.8L1785.9 1694.0L1787.1 1696.3L1788.4 1698.7L1789.7 1700.3L1791.0 1701.9L1792.3 1703.0L1793.5 1703.2L1794.8 1703.6L1796.1 1703.7L1797.4 1704.2L1798.7 1704.1L1799.9 1704.4L1801.2 1704.3L1802.5 1704.4L1803.8 1704.3L1805.1 1704.2L1806.3 1703.9L1807.6 1704.0L1808.9 1703.7L1810.2 1703.8L1811.5 1703.1L1812.7 1703.1L1814.0 1701.9L1815.3 1701.2L1816.6 1700.6L1817.9 1700.1L1819.1 1698.6L1820.4 1697.5L1821.7 1697.2L1823.0 1696.4L1824.3 1695.6L1825.0 1696.1L1825.5 1696.0L1826.8 1696.1L1828.1 1696.9L1829.4 1697.9L1830.7 1698.8L1831.9 1699.8L1833.2 1700.5L1834.5 1701.4L1835.8 1701.7L1837.1 1702.0L1838.3 1702.3L1839.6 1701.8L1840.9 1701.7L1842.2 1700.8L1843.5 1700.5L1844.7 1700.0L1846.0 1699.9L1847.3 1699.1L1848.0 1698.9L1848.6 1699.2L1849.9 1699.8L1851.1 1700.1L1852.4 1701.4L1853.7 1702.2L1855.0 1702.8L1856.3 1703.1L1857.5 1704.2L1858.8 1704.1L1860.1 1704.1L1861.4 1704.9L1862.7 1705.3L1863.9 1705.0L1865.2 1704.6L1866.5 1704.8L1867.8 1705.0L1869.1 1704.6L1870.3 1704.3L1871.6 1703.7L1872.9 1703.5L1874.2 1702.9L1875.5 1702.7L1876.7 1702.0L1878.0 1701.8L1879.3 1700.8L1880.0 1701.2L1880.6 1701.3L1881.9 1701.8L1883.1 1701.9L1884.4 1702.1L1885.7 1703.3L1887.0 1703.4L1888.3 1703.8L1889.5 1704.2L1890.8 1704.3L1892.1 1704.6L1893.4 1704.7L1894.7 1704.7L1895.9 1704.7L1897.2 1704.9L1898.5 1705.3L1899.8 1704.7L1901.1 1704.8L1902.3 1705.3L1903.6 1705.3L1904.9 1705.3L1906.2 1705.1L1907.5 1705.3L1908.7 1705.1L1910.0 1704.8L1911.3 1705.1L1912.6 1705.4L1913.9 1705.5L1915.1 1705.4L1916.4 1705.9L1917.7 1705.8L1919.0 1705.6L1920.3 1705.4L1921.5 1705.0L1922.8 1705.3L1924.1 1705.1L1925.4 1705.2L1926.7 1704.6L1927.9 1704.7L1929.2 1705.4L1930.5 1705.1L1931.8 1705.8L1933.1 1705.3L1934.3 1705.2L1935.6 1705.4L1936.9 1705.5L1938.2 1705.4L1939.5 1705.2L1940.7 1705.3L1942.0 1705.5L1943.3 1705.2L1944.6 1705.2L1945.9 1705.5L1947.1 1706.4L1948.4 1706.0L1949.7 1705.7L1951.0 1705.6L1952.3 1705.8L1953.5 1705.1L1954.8 1705.4L1956.1 1705.9L1957.4 1705.5L1958.7 1705.1L1959.9 1705.5L1961.2 1705.5L1962.5 1705.8L1963.8 1705.7L1965.1 1705.5L1966.3 1705.9L1967.6 1705.3L1968.9 1705.5L1970.2 1705.5L1971.5 1705.3L1972.7 1705.2L1974.0 1705.5L1975.3 1705.8L1976.6 1705.1L1977.9 1705.5L1979.1 1705.7L1980.4 1705.2L1981.7 1705.2L1983.0 1705.7L1984.3 1705.5L1985.5 1705.7L1986.8 1705.8L1988.1 1705.8L1989.4 1706.0L1990.7 1705.8L1991.9 1705.9L1993.2 1705.5L1994.5 1705.7L1995.8 1705.1L1997.1 1705.2L1998.3 1705.0L1999.6 1705.5L2000.9 1705.4L2002.2 1705.4L2003.5 1705.3L2004.7 1705.2L2006.0 1705.7L2007.3 1705.3L2008.6 1705.0L2009.9 1705.1L2011.1 1704.8L2012.4 1705.2L2013.7 1704.9L2015.0 1705.4L2016.3 1705.4L2017.5 1705.3L2018.8 1705.4L2020.1 1705.4L2021.4 1705.4L2022.7 1705.0L2023.9 1705.4L2025.2 1704.9L2026.5 1704.6L2027.8 1704.4L2029.1 1703.2L2030.3 1702.5L2031.6 1701.4L2032.9 1699.5L2034.2 1698.0L2035.5 1696.0L2036.7 1694.6L2038.0 1692.8L2039.3 1692.3L2040.0 1692.1L2040.6 1692.7L2041.9 1693.4L2043.1 1694.0L2044.4 1696.2L2045.7 1698.1L2047.0 1700.2L2048.3 1701.6L2049.5 1702.2L2050.8 1703.3L2052.1 1704.0L2053.4 1704.2L2054.7 1704.8L2055.9 1705.4L2057.2 1705.4L2058.5 1704.8L2059.8 1705.3L2061.1 1704.9L2062.3 1705.4L2063.6 1705.4L2064.9 1705.9L2066.2 1705.6L2067.5 1705.0L2068.7 1705.6L2070.0 1705.0L2071.3 1705.4L2072.6 1705.4L2073.9 1705.2L2075.1 1705.2L2076.4 1705.1L2077.7 1705.4L2079.0 1704.6L2080.3 1704.1L2081.5 1704.2L2082.8 1703.8L2084.1 1703.8L2085.4 1703.7L2086.7 1703.9L2087.9 1703.2L2089.2 1702.7L2090.5 1702.4L2091.8 1702.2L2093.1 1701.7L2094.3 1701.4L2095.0 1702.2L2095.6 1701.6L2096.9 1701.1L2098.2 1701.9L2099.5 1702.1L2100.7 1702.0L2102.0 1702.8L2103.3 1703.3L2104.6 1703.5L2105.9 1703.8L2107.1 1704.3L2108.4 1705.0L2109.7 1704.6L2111.0 1705.4L2112.3 1705.3L2113.5 1705.2L2114.8 1705.4L2116.1 1704.9L2117.4 1705.0L2118.7 1704.8L2119.9 1704.3L2121.2 1704.9L2122.5 1705.1L2123.8 1705.1L2125.1 1705.5L2126.3 1705.3L2127.6 1705.2L2128.9 1705.1L2130.2 1704.8L2131.5 1703.9L2132.7 1703.8L2134.0 1703.7L2135.3 1703.9L2136.6 1703.2L2137.9 1703.2L2139.1 1702.7L2140.4 1701.8L2141.7 1701.5L2143.0 1701.4L2144.3 1701.4L2145.0 1701.7L2145.5 1701.4L2146.8 1701.5L2148.1 1702.0L2149.4 1701.9L2150.7 1702.8L2151.9 1702.9L2153.2 1703.2L2154.5 1704.0L2155.8 1704.0L2157.1 1704.2L2158.3 1704.5L2159.6 1704.8L2160.9 1704.9L2162.2 1705.1L2163.5 1705.1L2164.7 1705.7L2166.0 1705.3L2167.3 1705.2L2168.6 1705.7L2169.9 1705.2L2171.1 1705.0L2172.4 1704.8L2173.7 1704.5L2175.0 1704.6L2176.3 1704.3L2177.5 1704.2L2178.8 1703.7L2180.1 1703.2L2181.4 1702.9L2182.7 1702.1L2183.9 1702.2L2185.2 1702.2L2186.5 1702.1L2187.8 1701.4L2189.1 1701.5L2190.0 1700.7L2190.3 1701.2L2191.6 1701.4L2192.9 1701.8L2194.2 1701.5L2195.5 1702.0L2196.7 1702.6L2198.0 1702.8L2199.3 1703.2L2200.6 1704.1L2201.9 1704.1L2203.1 1704.4L2204.4 1704.8L2205.7 1705.3L2207.0 1704.9L2208.3 1704.8L2209.5 1704.9L2210.8 1705.8L2212.1 1705.6L2213.4 1705.9L2214.7 1706.0L2215.9 1705.8L2217.2 1706.1L2218.5 1706.3L2219.8 1705.6L2221.1 1705.7L2222.3 1705.7L2223.6 1705.8L2224.9 1706.3L2226.2 1706.0L2227.5 1705.5L2228.7 1706.2L2230.0 1705.8L2231.3 1706.0L2232.6 1705.7L2233.9 1705.8L2235.1 1706.0L2236.4 1706.8L2237.7 1705.7L2239.0 1705.9L2240.3 1706.4L2241.5 1706.1L2242.8 1705.9L2244.1 1706.7L2245.4 1706.0L2246.7 1705.8L2247.9 1706.0L2249.2 1706.1L2250.5 1705.9L2251.8 1706.1L2253.1 1705.9L2254.3 1705.9L2255.6 1706.3L2256.9 1706.1L2258.2 1705.8L2259.5 1706.1L2260.7 1705.9L2262.0 1705.3L2263.3 1705.2L2264.6 1705.4L2265.9 1704.9L2267.1 1705.0L2268.4 1705.0L2269.7 1704.6L2271.0 1703.6L2272.3 1704.4L2273.5 1703.9L2274.8 1703.3L2276.1 1703.5L2277.4 1702.6L2278.7 1703.0L2279.9 1702.4L2281.2 1702.2L2282.5 1702.0L2283.8 1701.8L2285.0 1701.2L2285.1 1701.8L2286.3 1701.8L2287.6 1701.8L2288.9 1702.3L2290.2 1702.3L2291.5 1703.1L2292.7 1703.3L2294.0 1703.8L2295.3 1703.4L2296.6 1703.9L2297.9 1703.6L2299.1 1704.3L2300.4 1704.4L2301.7 1704.5L2303.0 1705.0L2304.3 1705.1L2305.5 1705.3L2306.8 1704.9L2308.1 1705.2L2309.4 1705.7L2310.7 1704.8L2311.9 1705.2L2313.2 1705.5L2314.5 1705.3L2315.8 1705.8L2317.1 1705.8L2318.3 1706.2L2319.6 1705.9L2320.9 1706.2L2322.2 1705.4L2323.5 1705.8L2324.7 1705.2L2326.0 1706.0L2327.3 1705.8L2328.6 1705.4L2329.9 1706.1L2331.1 1705.8L2332.4 1705.9L2333.7 1705.8L2335.0 1705.8L2336.3 1705.5L2337.5 1705.9L2338.8 1705.7L2340.1 1705.8L2341.4 1706.2L2342.7 1706.5L2343.9 1706.0L2345.2 1705.8L2346.5 1705.9L2347.8 1706.0L2349.1 1705.5L2350.3 1706.3L2351.6 1705.6L2352.9 1705.3L2354.2 1705.3L2355.5 1705.4L2356.7 1705.4L2358.0 1705.3L2359.3 1705.5L2360.6 1705.9L2361.9 1705.8L2363.1 1706.0L2364.4 1706.1L2365.7 1706.1L2367.0 1705.9L2368.3 1706.4L2369.5 1705.9L2370.8 1706.3L2372.1 1706.1L2373.4 1705.6L2374.7 1706.4L2375.9 1705.4L2377.2 1705.4L2378.5 1705.6L2379.8 1705.2L2381.1 1705.6L2382.3 1705.6L2383.6 1705.4L2384.9 1705.7L2386.2 1705.0L2387.5 1705.2L2388.7 1705.5L2390.0 1705.7L2391.3 1705.7L2392.6 1705.1L2393.9 1705.6L2395.1 1705.5L2396.4 1705.8L2397.7 1705.7L2399.0 1706.1L2400.3 1706.0L2401.5 1706.0L2402.8 1705.9L2404.1 1705.9L2405.4 1705.9L2406.7 1705.3L2407.9 1705.7L2409.2 1705.8L2410.5 1705.5L2411.8 1705.4L2413.1 1705.2L2414.3 1705.5L2415.6 1705.3L2416.9 1705.0L2418.2 1705.2L2419.5 1704.9L2420.7 1703.6L2422.0 1703.4L2423.3 1702.5L2424.6 1701.6L2425.9 1701.1L2427.1 1700.5L2428.4 1700.3L2428.8 1699.6L2429.7 1699.9L2431.0 1700.4L2432.3 1701.4L2433.5 1702.0L2434.8 1703.5L2436.1 1704.4L2437.4 1704.0L2438.7 1704.7L2439.9 1704.9"/>
</g>
<g id="axis" fill="#000">
<rect x="198.8" y="1751.3" width="2243.4" height="7.4"/>
<rect x="199.00" y="1755.0" width="7.0" height="32.5" rx="1.5"/>
<rect x="262.89" y="1755.0" width="7.0" height="18.3" rx="1.5"/>
<rect x="326.77" y="1755.0" width="7.0" height="18.3" rx="1.5"/>
<rect x="390.66" y="1755.0" width="7.0" height="18.3" rx="1.5"/>
<rect x="454.54" y="1755.0" width="7.0" height="18.3" rx="1.5"/>
<rect x="518.43" y="1755.0" width="7.0" height="32.5" rx="1.5"/>
<rect x="582.31" y="1755.0" width="7.0" height="18.3" rx="1.5"/>
<rect x="646.20" y="1755.0" width="7.0" height="18.3" rx="1.5"/>
<rect x="710.09" y="1755.0" width="7.0" height="18.3" rx="1.5"/>
<rect x="773.97" y="1755.0" width="7.0" height="18.3" rx="1.5"/>
<rect x="837.86" y="1755.0" width="7.0" height="32.5" rx="1.5"/>
<rect x="901.74" y="1755.0" width="7.0" height="18.3" rx="1.5"/>
<rect x="965.63" y="1755.0" width="7.0" height="18.3" rx="1.5"/>
<rect x="1029.51" y="1755.0" width="7.0" height="18.3" rx="1.5"/>
<rect x="1093.40" y="1755.0" width="7.0" height="18.3" rx="1.5"/>
<rect x="1157.29" y="1755.0" width="7.0" height="32.5" rx="1.5"/>
<rect x="1221.17" y="1755.0" width="7.0" height="18.3" rx="1.5"/>
<rect x="1285.06" y="1755.0" width="7.0" height="18.3" rx="1.5"/>
<rect x="1348.94" y="1755.0" width="7.0" height="18.3" rx="1.5"/>
<rect x="1412.83" y="1755.0" width="7.0" height="18.3" rx="1.5"/>
<rect x="1476.71" y="1755.0" width="7.0" height="32.5" rx="1.5"/>
<rect x="1540.60" y="1755.0" width="7.0" height="18.3" rx="1.5"/>
<rect x="1604.49" y="1755.0" width="7.0" height="18.3" rx="1.5"/>
<rect x="1668.37" y="1755.0" width="7.0" height="18.3" rx="1.5"/>
<rect x="1732.26" y="1755.0" width="7.0" height="18.3" rx="1.5"/>
<rect x="1796.14" y="1755.0" width="7.0" height="32.5" rx="1.5"/>
<rect x="1860.03" y="1755.0" width="7.0" height="18.3" rx="1.5"/>
<rect x="1923.91" y="1755.0" width="7.0" height="18.3" rx="1.5"/>
<rect x="1987.80" y="1755.0" width="7.0" height="18.3" rx="1.5"/>
<rect x="2051.69" y="1755.0" width="7.0" height="18.3" rx="1.5"/>
<rect x="2115.57" y="1755.0" width="7.0" height="32.5" rx="1.5"/>
<rect x="2179.46" y="1755.0" width="7.0" height="18.3" rx="1.5"/>
<rect x="2243.34" y="1755.0" width="7.0" height="18.3" rx="1.5"/>
<rect x="2307.23" y="1755.0" width="7.0" height="18.3" rx="1.5"/>
<rect x="2371.11" y="1755.0" width="7.0" height="18.3" rx="1.5"/>
<rect x="2435.00" y="1755.0" width="7.0" height="32.5" rx="1.5"/>
</g>
<g id="ticklabels" class="t61" text-anchor="middle">
<text x="202.5" y="1853.6">5</text>
<text x="521.9" y="1853.6">10</text>
<text x="841.4" y="1853.6">15</text>
<text x="1160.8" y="1853.6">20</text>
<text x="1480.2" y="1853.6">25</text>
<text x="1799.6" y="1853.6">30</text>
<text x="2119.1" y="1853.6">35</text>
<text x="2438.5" y="1853.6">40</text>
</g>
<g id="labels">
<text><tspan x="47.5" y="70.9" style="font-size:74px;font-style:italic;">x</tspan><tspan x="82.5" y="99.8" style="font-size:44px;letter-spacing:-0.340px;">2,4DAP</tspan><tspan x="253.0" y="70.9" style="font-size:74px;">=</tspan><tspan x="315.5" y="70.9" style="font-size:74px;">0.33</tspan></text>
<text x="156.0" y="293.8" style="font-size:61px;letter-spacing:-0.243px;">LAG EtOH</text>
<text x="184.5" y="761.8" style="font-size:61px;letter-spacing:-0.349px;">LAG EtOH, previously heated to 150ºC</text>
<text x="177.5" y="1078.9" style="font-size:61px;letter-spacing:-0.258px;">Neat Grinding</text>
<text x="156.5" y="1577.9" style="font-size:61px;letter-spacing:-0.385px;">Neat Grinding, previously heated to 150ºC</text>
<text x="2076.5" y="433.2" style="font-size:74px;letter-spacing:-0.033px;">Hydrate</text>
<text x="2079.5" y="870.8" style="font-size:74px;letter-spacing:0.060px;">Polymorph I</text>
<text x="2074.0" y="1227.7" style="font-size:74px;letter-spacing:-0.064px;">Polymorph II</text>
<text x="2076.0" y="1648.8" style="font-size:74px;letter-spacing:0.060px;">Polymorph I</text>
<text transform="translate(72.1 1280.5) rotate(-90)" style="font-size:74px;letter-spacing:-0.100px;">Intensity /<tspan font-style="italic">a</tspan>.u.</text>
<text x="1239.5" y="1970.4" style="font-size:74px;">2</text>
<text transform="translate(1280.0 1971.0) scale(1.150 1)" style="font-size:66px;font-family:'Liberation Serif','DejaVu Serif',serif;stroke:none;">θ</text>
<text x="1334.5" y="1970.4" style="font-size:74px;">/</text>
<text x="1375.0" y="1967.6" style="font-size:71px;">º</text>
</g>
</svg>
</body>
</html>
